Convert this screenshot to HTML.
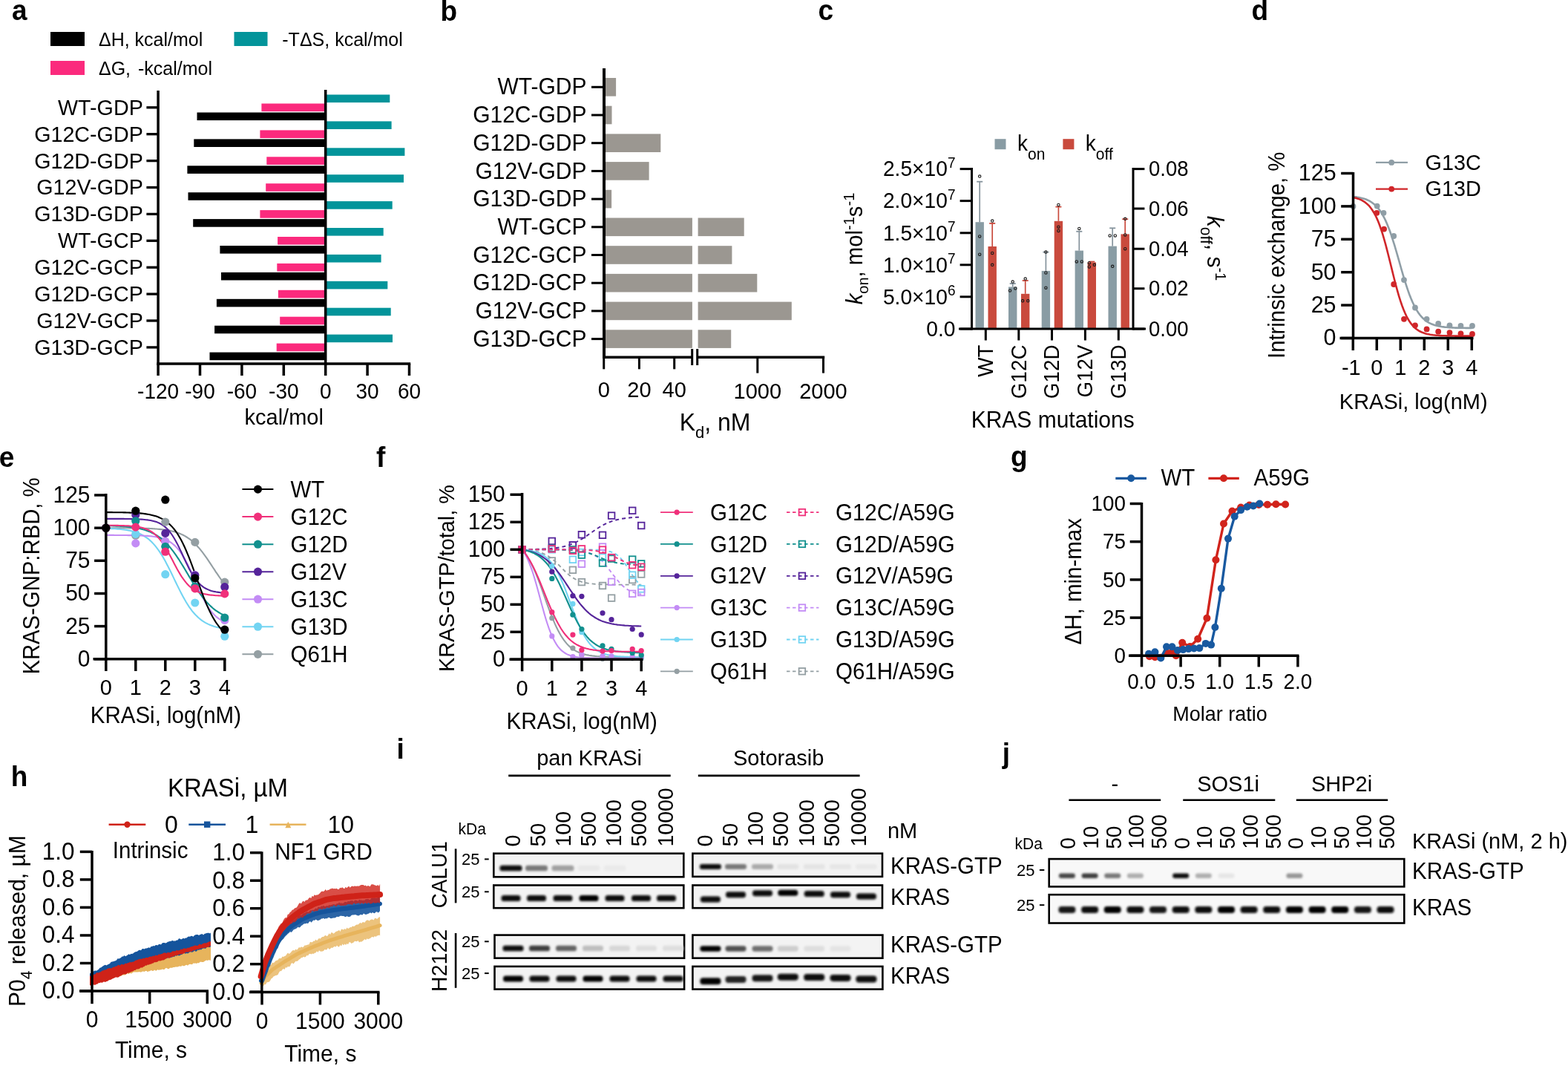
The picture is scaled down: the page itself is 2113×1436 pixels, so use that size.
<!DOCTYPE html>
<html><head><meta charset="utf-8"><title>Figure</title>
<style>
html,body{margin:0;padding:0;background:#fff;}
svg{display:block;}
svg text{font-family:"Liberation Sans",Arial,Helvetica,sans-serif;}
</style></head><body>
<svg width="2113" height="1436" viewBox="0 0 2113 1436">
<defs><filter id="bb" x="-30%" y="-80%" width="160%" height="260%"><feGaussianBlur stdDeviation="1.6"/></filter></defs>
<rect width="2113" height="1436" fill="#fff"/>
<text x="16" y="27" font-size="37" font-weight="bold" transform="translate(16 27) scale(1 1.04) translate(-16 -27)">a</text>
<rect x="68" y="43" width="46" height="19" fill="#000"/>
<text x="133" y="62" font-size="25" transform="translate(133 62) scale(1 1.04) translate(-133 -62)">ΔH, kcal/mol</text>
<rect x="315.5" y="43" width="45" height="19" fill="#03949a"/>
<text x="380.3" y="62" font-size="25" transform="translate(380.3 62) scale(1 1.04) translate(-380.3 -62)">-TΔS, kcal/mol</text>
<rect x="68" y="82" width="46" height="19" fill="#fb2a7d"/>
<text x="133" y="100.7" font-size="25" transform="translate(133 100.7) scale(1 1.04) translate(-133 -100.7)">ΔG, <tspan dx="3">-kcal/mol</tspan></text>
<rect x="438.7" y="127.5" width="86.6" height="10.6" fill="#03949a"/>
<rect x="352.4" y="139.5" width="86.3" height="10.6" fill="#fb2a7d"/>
<rect x="265.5" y="151.5" width="173.2" height="10.6" fill="#000"/>
<line x1="197.4" y1="144.8" x2="213" y2="144.8" stroke="#000" stroke-width="3.3"/>
<text x="192.8" y="154.8" font-size="28.7" text-anchor="end" transform="translate(192.8 154.8) scale(1 1.04) translate(-192.8 -154.8)">WT-GDP</text>
<rect x="438.7" y="163.4" width="88.9" height="10.6" fill="#03949a"/>
<rect x="350.4" y="175.4" width="88.3" height="10.6" fill="#fb2a7d"/>
<rect x="261.3" y="187.4" width="177.4" height="10.6" fill="#000"/>
<line x1="197.4" y1="180.7" x2="213" y2="180.7" stroke="#000" stroke-width="3.3"/>
<text x="192.8" y="190.7" font-size="28.7" text-anchor="end" transform="translate(192.8 190.7) scale(1 1.04) translate(-192.8 -190.7)">G12C-GDP</text>
<rect x="438.7" y="199.3" width="106.7" height="10.6" fill="#03949a"/>
<rect x="359.3" y="211.3" width="79.4" height="10.6" fill="#fb2a7d"/>
<rect x="252.4" y="223.3" width="186.3" height="10.6" fill="#000"/>
<line x1="197.4" y1="216.6" x2="213" y2="216.6" stroke="#000" stroke-width="3.3"/>
<text x="192.8" y="226.6" font-size="28.7" text-anchor="end" transform="translate(192.8 226.6) scale(1 1.04) translate(-192.8 -226.6)">G12D-GDP</text>
<rect x="438.7" y="235.2" width="105.3" height="10.6" fill="#03949a"/>
<rect x="358.2" y="247.2" width="80.5" height="10.6" fill="#fb2a7d"/>
<rect x="253.5" y="259.2" width="185.2" height="10.6" fill="#000"/>
<line x1="197.4" y1="252.5" x2="213" y2="252.5" stroke="#000" stroke-width="3.3"/>
<text x="192.8" y="262.5" font-size="28.7" text-anchor="end" transform="translate(192.8 262.5) scale(1 1.04) translate(-192.8 -262.5)">G12V-GDP</text>
<rect x="438.7" y="271.1" width="90" height="10.6" fill="#03949a"/>
<rect x="350.4" y="283.1" width="88.3" height="10.6" fill="#fb2a7d"/>
<rect x="260.2" y="295.1" width="178.5" height="10.6" fill="#000"/>
<line x1="197.4" y1="288.4" x2="213" y2="288.4" stroke="#000" stroke-width="3.3"/>
<text x="192.8" y="298.4" font-size="28.7" text-anchor="end" transform="translate(192.8 298.4) scale(1 1.04) translate(-192.8 -298.4)">G13D-GDP</text>
<rect x="438.7" y="307" width="78" height="10.6" fill="#03949a"/>
<rect x="374.1" y="319" width="64.6" height="10.6" fill="#fb2a7d"/>
<rect x="296.4" y="331" width="142.3" height="10.6" fill="#000"/>
<line x1="197.4" y1="324.3" x2="213" y2="324.3" stroke="#000" stroke-width="3.3"/>
<text x="192.8" y="334.3" font-size="28.7" text-anchor="end" transform="translate(192.8 334.3) scale(1 1.04) translate(-192.8 -334.3)">WT-GCP</text>
<rect x="438.7" y="342.9" width="74.9" height="10.6" fill="#03949a"/>
<rect x="373.3" y="354.9" width="65.4" height="10.6" fill="#fb2a7d"/>
<rect x="298" y="366.9" width="140.7" height="10.6" fill="#000"/>
<line x1="197.4" y1="360.2" x2="213" y2="360.2" stroke="#000" stroke-width="3.3"/>
<text x="192.8" y="370.2" font-size="28.7" text-anchor="end" transform="translate(192.8 370.2) scale(1 1.04) translate(-192.8 -370.2)">G12C-GCP</text>
<rect x="438.7" y="378.8" width="83.6" height="10.6" fill="#03949a"/>
<rect x="374.9" y="390.8" width="63.8" height="10.6" fill="#fb2a7d"/>
<rect x="291.9" y="402.8" width="146.8" height="10.6" fill="#000"/>
<line x1="197.4" y1="396.1" x2="213" y2="396.1" stroke="#000" stroke-width="3.3"/>
<text x="192.8" y="406.1" font-size="28.7" text-anchor="end" transform="translate(192.8 406.1) scale(1 1.04) translate(-192.8 -406.1)">G12D-GCP</text>
<rect x="438.7" y="414.7" width="88" height="10.6" fill="#03949a"/>
<rect x="377.2" y="426.7" width="61.5" height="10.6" fill="#fb2a7d"/>
<rect x="289.1" y="438.7" width="149.6" height="10.6" fill="#000"/>
<line x1="197.4" y1="432" x2="213" y2="432" stroke="#000" stroke-width="3.3"/>
<text x="192.8" y="442" font-size="28.7" text-anchor="end" transform="translate(192.8 442) scale(1 1.04) translate(-192.8 -442)">G12V-GCP</text>
<rect x="438.7" y="450.6" width="90.3" height="10.6" fill="#03949a"/>
<rect x="372.7" y="462.6" width="66" height="10.6" fill="#fb2a7d"/>
<rect x="282.5" y="474.6" width="156.2" height="10.6" fill="#000"/>
<line x1="197.4" y1="467.9" x2="213" y2="467.9" stroke="#000" stroke-width="3.3"/>
<text x="192.8" y="477.9" font-size="28.7" text-anchor="end" transform="translate(192.8 477.9) scale(1 1.04) translate(-192.8 -477.9)">G13D-GCP</text>
<line x1="213.1" y1="122" x2="213.1" y2="491.7" stroke="#000" stroke-width="3.5"/>
<line x1="438.7" y1="121" x2="438.7" y2="491.7" stroke="#000" stroke-width="3.5"/>
<line x1="211.4" y1="490" x2="553.2" y2="490" stroke="#000" stroke-width="3.5"/>
<line x1="213.1" y1="490" x2="213.1" y2="506" stroke="#000" stroke-width="3.5"/>
<text x="213.1" y="537" font-size="28" text-anchor="middle" transform="translate(213.1 537) scale(1 1.04) translate(-213.1 -537)">-120</text>
<line x1="269.5" y1="490" x2="269.5" y2="506" stroke="#000" stroke-width="3.5"/>
<text x="269.5" y="537" font-size="28" text-anchor="middle" transform="translate(269.5 537) scale(1 1.04) translate(-269.5 -537)">-90</text>
<line x1="325.9" y1="490" x2="325.9" y2="506" stroke="#000" stroke-width="3.5"/>
<text x="325.9" y="537" font-size="28" text-anchor="middle" transform="translate(325.9 537) scale(1 1.04) translate(-325.9 -537)">-60</text>
<line x1="382.3" y1="490" x2="382.3" y2="506" stroke="#000" stroke-width="3.5"/>
<text x="382.3" y="537" font-size="28" text-anchor="middle" transform="translate(382.3 537) scale(1 1.04) translate(-382.3 -537)">-30</text>
<line x1="438.7" y1="490" x2="438.7" y2="506" stroke="#000" stroke-width="3.5"/>
<text x="438.7" y="537" font-size="28" text-anchor="middle" transform="translate(438.7 537) scale(1 1.04) translate(-438.7 -537)">0</text>
<line x1="495.1" y1="490" x2="495.1" y2="506" stroke="#000" stroke-width="3.5"/>
<text x="495.1" y="537" font-size="28" text-anchor="middle" transform="translate(495.1 537) scale(1 1.04) translate(-495.1 -537)">30</text>
<line x1="551.5" y1="490" x2="551.5" y2="506" stroke="#000" stroke-width="3.5"/>
<text x="551.5" y="537" font-size="28" text-anchor="middle" transform="translate(551.5 537) scale(1 1.04) translate(-551.5 -537)">60</text>
<text x="382.7" y="571.8" font-size="29" text-anchor="middle" transform="translate(382.7 571.8) scale(1 1.04) translate(-382.7 -571.8)">kcal/mol</text>
<text x="593.4" y="27.5" font-size="37" font-weight="bold" transform="translate(593.4 27.5) scale(1 1.04) translate(-593.4 -27.5)">b</text>
<rect x="815.5" y="105" width="14.6" height="24.6" fill="#9b9791"/>
<line x1="797" y1="117.3" x2="814" y2="117.3" stroke="#000" stroke-width="3"/>
<text x="790.5" y="127.5" font-size="30" text-anchor="end" transform="translate(790.5 127.5) scale(1 1.04) translate(-790.5 -127.5)">WT-GDP</text>
<rect x="815.5" y="142.7" width="9" height="24.6" fill="#9b9791"/>
<line x1="797" y1="155" x2="814" y2="155" stroke="#000" stroke-width="3"/>
<text x="790.5" y="165.2" font-size="30" text-anchor="end" transform="translate(790.5 165.2) scale(1 1.04) translate(-790.5 -165.2)">G12C-GDP</text>
<rect x="815.5" y="180.4" width="74.8" height="24.6" fill="#9b9791"/>
<line x1="797" y1="192.7" x2="814" y2="192.7" stroke="#000" stroke-width="3"/>
<text x="790.5" y="202.9" font-size="30" text-anchor="end" transform="translate(790.5 202.9) scale(1 1.04) translate(-790.5 -202.9)">G12D-GDP</text>
<rect x="815.5" y="218.1" width="59.1" height="24.6" fill="#9b9791"/>
<line x1="797" y1="230.4" x2="814" y2="230.4" stroke="#000" stroke-width="3"/>
<text x="790.5" y="240.6" font-size="30" text-anchor="end" transform="translate(790.5 240.6) scale(1 1.04) translate(-790.5 -240.6)">G12V-GDP</text>
<rect x="815.5" y="255.8" width="8.6" height="24.6" fill="#9b9791"/>
<line x1="797" y1="268.1" x2="814" y2="268.1" stroke="#000" stroke-width="3"/>
<text x="790.5" y="278.3" font-size="30" text-anchor="end" transform="translate(790.5 278.3) scale(1 1.04) translate(-790.5 -278.3)">G13D-GDP</text>
<rect x="815.5" y="293.5" width="117.4" height="24.6" fill="#9b9791"/>
<rect x="940.6" y="293.5" width="62.1" height="24.6" fill="#9b9791"/>
<line x1="797" y1="305.8" x2="814" y2="305.8" stroke="#000" stroke-width="3"/>
<text x="790.5" y="316" font-size="30" text-anchor="end" transform="translate(790.5 316) scale(1 1.04) translate(-790.5 -316)">WT-GCP</text>
<rect x="815.5" y="331.2" width="117.4" height="24.6" fill="#9b9791"/>
<rect x="940.6" y="331.2" width="45.8" height="24.6" fill="#9b9791"/>
<line x1="797" y1="343.5" x2="814" y2="343.5" stroke="#000" stroke-width="3"/>
<text x="790.5" y="353.7" font-size="30" text-anchor="end" transform="translate(790.5 353.7) scale(1 1.04) translate(-790.5 -353.7)">G12C-GCP</text>
<rect x="815.5" y="368.9" width="117.4" height="24.6" fill="#9b9791"/>
<rect x="940.6" y="368.9" width="79.7" height="24.6" fill="#9b9791"/>
<line x1="797" y1="381.2" x2="814" y2="381.2" stroke="#000" stroke-width="3"/>
<text x="790.5" y="391.4" font-size="30" text-anchor="end" transform="translate(790.5 391.4) scale(1 1.04) translate(-790.5 -391.4)">G12D-GCP</text>
<rect x="815.5" y="406.6" width="117.4" height="24.6" fill="#9b9791"/>
<rect x="940.6" y="406.6" width="126.2" height="24.6" fill="#9b9791"/>
<line x1="797" y1="418.9" x2="814" y2="418.9" stroke="#000" stroke-width="3"/>
<text x="790.5" y="429.1" font-size="30" text-anchor="end" transform="translate(790.5 429.1) scale(1 1.04) translate(-790.5 -429.1)">G12V-GCP</text>
<rect x="815.5" y="444.3" width="117.4" height="24.6" fill="#9b9791"/>
<rect x="940.6" y="444.3" width="44.6" height="24.6" fill="#9b9791"/>
<line x1="797" y1="456.6" x2="814" y2="456.6" stroke="#000" stroke-width="3"/>
<text x="790.5" y="466.8" font-size="30" text-anchor="end" transform="translate(790.5 466.8) scale(1 1.04) translate(-790.5 -466.8)">G13D-GCP</text>
<line x1="814" y1="92" x2="814" y2="483" stroke="#000" stroke-width="4"/>
<line x1="812.3" y1="481.2" x2="932.7" y2="481.2" stroke="#000" stroke-width="3.5"/>
<line x1="939.7" y1="481.2" x2="1111.2" y2="481.2" stroke="#000" stroke-width="3.5"/>
<line x1="932.7" y1="470" x2="932.7" y2="492" stroke="#000" stroke-width="3"/>
<line x1="939.7" y1="470" x2="939.7" y2="492" stroke="#000" stroke-width="3"/>
<line x1="813.7" y1="481.2" x2="813.7" y2="497.3" stroke="#000" stroke-width="3"/>
<text x="813.7" y="535.5" font-size="29" text-anchor="middle" transform="translate(813.7 535.5) scale(1 1.04) translate(-813.7 -535.5)">0</text>
<line x1="861.4" y1="481.2" x2="861.4" y2="497.3" stroke="#000" stroke-width="3"/>
<text x="861.4" y="535.5" font-size="29" text-anchor="middle" transform="translate(861.4 535.5) scale(1 1.04) translate(-861.4 -535.5)">20</text>
<line x1="908.7" y1="481.2" x2="908.7" y2="497.3" stroke="#000" stroke-width="3"/>
<text x="908.7" y="535.5" font-size="29" text-anchor="middle" transform="translate(908.7 535.5) scale(1 1.04) translate(-908.7 -535.5)">40</text>
<line x1="1020.8" y1="481.2" x2="1020.8" y2="502.6" stroke="#000" stroke-width="3"/>
<text x="1020.8" y="536.7" font-size="29" text-anchor="middle" transform="translate(1020.8 536.7) scale(1 1.04) translate(-1020.8 -536.7)">1000</text>
<line x1="1109.5" y1="481.2" x2="1109.5" y2="502.6" stroke="#000" stroke-width="3"/>
<text x="1109.5" y="536.7" font-size="29" text-anchor="middle" transform="translate(1109.5 536.7) scale(1 1.04) translate(-1109.5 -536.7)">2000</text>
<text x="915.7" y="579.6" font-size="32" transform="translate(915.7 579.6) scale(1 1.04) translate(-915.7 -579.6)">K<tspan font-size="22" dy="9.7">d</tspan><tspan dy="-9.7">, nM</tspan></text>
<text x="1102.6" y="27.2" font-size="37" font-weight="bold" transform="translate(1102.6 27.2) scale(1 1.04) translate(-1102.6 -27.2)">c</text>
<rect x="1340.5" y="187.2" width="15" height="14" fill="#899ca4"/>
<text x="1371" y="203.3" font-size="28" transform="translate(1371 203.3) scale(1 1.04) translate(-1371 -203.3)">k<tspan font-size="21" dy="11">on</tspan></text>
<rect x="1432.4" y="187.2" width="15" height="14" fill="#c94a3d"/>
<text x="1462.8" y="203.3" font-size="28" transform="translate(1462.8 203.3) scale(1 1.04) translate(-1462.8 -203.3)">k<tspan font-size="21" dy="11">off</tspan></text>
<rect x="1314.5" y="299.2" width="11.4" height="143.8" fill="#899ca4"/>
<rect x="1331.5" y="332" width="11.4" height="111" fill="#c94a3d"/>
<line x1="1320.2" y1="299.2" x2="1320.2" y2="244.7" stroke="#85939c" stroke-width="1.7"/>
<line x1="1316.2" y1="244.7" x2="1324.2" y2="244.7" stroke="#85939c" stroke-width="1.8"/>
<line x1="1337.2" y1="332" x2="1337.2" y2="300.9" stroke="#c94a3d" stroke-width="1.7"/>
<line x1="1333.2" y1="300.9" x2="1341.2" y2="300.9" stroke="#c94a3d" stroke-width="1.8"/>
<circle cx="1320.2" cy="237.6" r="1.7" fill="none" stroke="#1a1a1a" stroke-width="1.1"/>
<circle cx="1320.2" cy="318.4" r="1.7" fill="none" stroke="#1a1a1a" stroke-width="1.1"/>
<circle cx="1320.2" cy="342.7" r="1.7" fill="none" stroke="#1a1a1a" stroke-width="1.1"/>
<circle cx="1337.2" cy="297.6" r="1.7" fill="none" stroke="#1a1a1a" stroke-width="1.1"/>
<circle cx="1337.2" cy="341" r="1.7" fill="none" stroke="#1a1a1a" stroke-width="1.1"/>
<circle cx="1337.2" cy="356.8" r="1.7" fill="none" stroke="#1a1a1a" stroke-width="1.1"/>
<rect x="1359" y="386.5" width="11.4" height="56.5" fill="#899ca4"/>
<rect x="1376" y="395.8" width="11.4" height="47.2" fill="#c94a3d"/>
<line x1="1364.7" y1="386.5" x2="1364.7" y2="382" stroke="#85939c" stroke-width="1.7"/>
<line x1="1360.7" y1="382" x2="1368.7" y2="382" stroke="#85939c" stroke-width="1.8"/>
<line x1="1381.7" y1="395.8" x2="1381.7" y2="378" stroke="#c94a3d" stroke-width="1.7"/>
<line x1="1377.7" y1="378" x2="1385.7" y2="378" stroke="#c94a3d" stroke-width="1.8"/>
<circle cx="1361" cy="391.5" r="1.7" fill="none" stroke="#1a1a1a" stroke-width="1.1"/>
<circle cx="1364.7" cy="379.6" r="1.7" fill="none" stroke="#1a1a1a" stroke-width="1.1"/>
<circle cx="1368.3" cy="388.5" r="1.7" fill="none" stroke="#1a1a1a" stroke-width="1.1"/>
<circle cx="1381.7" cy="375.6" r="1.7" fill="none" stroke="#1a1a1a" stroke-width="1.1"/>
<circle cx="1378.1" cy="405.3" r="1.7" fill="none" stroke="#1a1a1a" stroke-width="1.1"/>
<circle cx="1385.3" cy="405.3" r="1.7" fill="none" stroke="#1a1a1a" stroke-width="1.1"/>
<rect x="1403.7" y="364.9" width="11.4" height="78.1" fill="#899ca4"/>
<rect x="1420.7" y="297.8" width="11.4" height="145.2" fill="#c94a3d"/>
<line x1="1409.4" y1="364.9" x2="1409.4" y2="339.6" stroke="#85939c" stroke-width="1.7"/>
<line x1="1405.4" y1="339.6" x2="1413.4" y2="339.6" stroke="#85939c" stroke-width="1.8"/>
<line x1="1426.4" y1="297.8" x2="1426.4" y2="278.6" stroke="#c94a3d" stroke-width="1.7"/>
<line x1="1422.4" y1="278.6" x2="1430.4" y2="278.6" stroke="#c94a3d" stroke-width="1.8"/>
<circle cx="1409.4" cy="339.6" r="1.7" fill="none" stroke="#1a1a1a" stroke-width="1.1"/>
<circle cx="1409.4" cy="367.5" r="1.7" fill="none" stroke="#1a1a1a" stroke-width="1.1"/>
<circle cx="1409.4" cy="387.7" r="1.7" fill="none" stroke="#1a1a1a" stroke-width="1.1"/>
<circle cx="1426.4" cy="276" r="1.7" fill="none" stroke="#1a1a1a" stroke-width="1.1"/>
<circle cx="1426.4" cy="305.7" r="1.7" fill="none" stroke="#1a1a1a" stroke-width="1.1"/>
<circle cx="1426.4" cy="311" r="1.7" fill="none" stroke="#1a1a1a" stroke-width="1.1"/>
<rect x="1448.6" y="337.6" width="11.4" height="105.4" fill="#899ca4"/>
<rect x="1465.6" y="353.4" width="11.4" height="89.6" fill="#c94a3d"/>
<line x1="1454.3" y1="337.6" x2="1454.3" y2="311.8" stroke="#85939c" stroke-width="1.7"/>
<line x1="1450.3" y1="311.8" x2="1458.3" y2="311.8" stroke="#85939c" stroke-width="1.8"/>
<line x1="1471.3" y1="353.4" x2="1471.3" y2="352.5" stroke="#c94a3d" stroke-width="1.7"/>
<line x1="1467.3" y1="352.5" x2="1475.3" y2="352.5" stroke="#c94a3d" stroke-width="1.8"/>
<circle cx="1454.3" cy="307.9" r="1.7" fill="none" stroke="#1a1a1a" stroke-width="1.1"/>
<circle cx="1450.8" cy="352.4" r="1.7" fill="none" stroke="#1a1a1a" stroke-width="1.1"/>
<circle cx="1457.8" cy="352.4" r="1.7" fill="none" stroke="#1a1a1a" stroke-width="1.1"/>
<circle cx="1467.8" cy="354.2" r="1.7" fill="none" stroke="#1a1a1a" stroke-width="1.1"/>
<circle cx="1467.8" cy="359.4" r="1.7" fill="none" stroke="#1a1a1a" stroke-width="1.1"/>
<circle cx="1474.8" cy="356.8" r="1.7" fill="none" stroke="#1a1a1a" stroke-width="1.1"/>
<rect x="1493.5" y="331.6" width="11.4" height="111.4" fill="#899ca4"/>
<rect x="1510.5" y="315.4" width="11.4" height="127.6" fill="#c94a3d"/>
<line x1="1499.2" y1="331.6" x2="1499.2" y2="307.3" stroke="#85939c" stroke-width="1.7"/>
<line x1="1495.2" y1="307.3" x2="1503.2" y2="307.3" stroke="#85939c" stroke-width="1.8"/>
<line x1="1516.2" y1="315.4" x2="1516.2" y2="295.2" stroke="#c94a3d" stroke-width="1.7"/>
<line x1="1512.2" y1="295.2" x2="1520.2" y2="295.2" stroke="#c94a3d" stroke-width="1.8"/>
<circle cx="1495.6" cy="317.4" r="1.7" fill="none" stroke="#1a1a1a" stroke-width="1.1"/>
<circle cx="1502.8" cy="317.4" r="1.7" fill="none" stroke="#1a1a1a" stroke-width="1.1"/>
<circle cx="1499.2" cy="358.8" r="1.7" fill="none" stroke="#1a1a1a" stroke-width="1.1"/>
<circle cx="1516.2" cy="294.8" r="1.7" fill="none" stroke="#1a1a1a" stroke-width="1.1"/>
<circle cx="1516.2" cy="316.4" r="1.7" fill="none" stroke="#1a1a1a" stroke-width="1.1"/>
<circle cx="1516.2" cy="335.2" r="1.7" fill="none" stroke="#1a1a1a" stroke-width="1.1"/>
<line x1="1309.5" y1="226" x2="1309.5" y2="444.5" stroke="#000" stroke-width="3"/>
<line x1="1527" y1="226" x2="1527" y2="444.5" stroke="#000" stroke-width="3"/>
<line x1="1292" y1="443" x2="1544" y2="443" stroke="#000" stroke-width="3"/>
<line x1="1293.6" y1="227.6" x2="1309.5" y2="227.6" stroke="#000" stroke-width="3"/>
<text x="1287.5" y="237.5" font-size="28.2" text-anchor="end" transform="translate(1287.5 237.5) scale(1 1.04) translate(-1287.5 -237.5)">2.5×10<tspan font-size="19" dy="-11.5">7</tspan></text>
<line x1="1293.6" y1="270.6" x2="1309.5" y2="270.6" stroke="#000" stroke-width="3"/>
<text x="1287.5" y="280.5" font-size="28.2" text-anchor="end" transform="translate(1287.5 280.5) scale(1 1.04) translate(-1287.5 -280.5)">2.0×10<tspan font-size="19" dy="-11.5">7</tspan></text>
<line x1="1293.6" y1="313.8" x2="1309.5" y2="313.8" stroke="#000" stroke-width="3"/>
<text x="1287.5" y="323.7" font-size="28.2" text-anchor="end" transform="translate(1287.5 323.7) scale(1 1.04) translate(-1287.5 -323.7)">1.5×10<tspan font-size="19" dy="-11.5">7</tspan></text>
<line x1="1293.6" y1="356.8" x2="1309.5" y2="356.8" stroke="#000" stroke-width="3"/>
<text x="1287.5" y="366.7" font-size="28.2" text-anchor="end" transform="translate(1287.5 366.7) scale(1 1.04) translate(-1287.5 -366.7)">1.0×10<tspan font-size="19" dy="-11.5">7</tspan></text>
<line x1="1293.6" y1="399.8" x2="1309.5" y2="399.8" stroke="#000" stroke-width="3"/>
<text x="1287.5" y="409.7" font-size="28.2" text-anchor="end" transform="translate(1287.5 409.7) scale(1 1.04) translate(-1287.5 -409.7)">5.0×10<tspan font-size="19" dy="-11.5">6</tspan></text>
<line x1="1293.6" y1="443" x2="1309.5" y2="443" stroke="#000" stroke-width="3"/>
<text x="1287.5" y="452.9" font-size="28.2" text-anchor="end" transform="translate(1287.5 452.9) scale(1 1.04) translate(-1287.5 -452.9)">0.0</text>
<line x1="1527" y1="227.6" x2="1542.4" y2="227.6" stroke="#000" stroke-width="3"/>
<text x="1548" y="237.4" font-size="27.5" transform="translate(1548 237.4) scale(1 1.04) translate(-1548 -237.4)">0.08</text>
<line x1="1527" y1="281" x2="1542.4" y2="281" stroke="#000" stroke-width="3"/>
<text x="1548" y="290.8" font-size="27.5" transform="translate(1548 290.8) scale(1 1.04) translate(-1548 -290.8)">0.06</text>
<line x1="1527" y1="335.2" x2="1542.4" y2="335.2" stroke="#000" stroke-width="3"/>
<text x="1548" y="345" font-size="27.5" transform="translate(1548 345) scale(1 1.04) translate(-1548 -345)">0.04</text>
<line x1="1527" y1="388.7" x2="1542.4" y2="388.7" stroke="#000" stroke-width="3"/>
<text x="1548" y="398.5" font-size="27.5" transform="translate(1548 398.5) scale(1 1.04) translate(-1548 -398.5)">0.02</text>
<line x1="1527" y1="443" x2="1542.4" y2="443" stroke="#000" stroke-width="3"/>
<text x="1548" y="452.8" font-size="27.5" transform="translate(1548 452.8) scale(1 1.04) translate(-1548 -452.8)">0.00</text>
<line x1="1328.3" y1="443" x2="1328.3" y2="458.5" stroke="#000" stroke-width="3"/>
<text x="1338.1" y="464.5" font-size="27.8" text-anchor="end" transform="rotate(-90 1338.1 464.5) translate(1338.1 464.5) scale(1 1.04) translate(-1338.1 -464.5)">WT</text>
<line x1="1372.8" y1="443" x2="1372.8" y2="458.5" stroke="#000" stroke-width="3"/>
<text x="1382.6" y="464.5" font-size="27.8" text-anchor="end" transform="rotate(-90 1382.6 464.5) translate(1382.6 464.5) scale(1 1.04) translate(-1382.6 -464.5)">G12C</text>
<line x1="1417.5" y1="443" x2="1417.5" y2="458.5" stroke="#000" stroke-width="3"/>
<text x="1427.3" y="464.5" font-size="27.8" text-anchor="end" transform="rotate(-90 1427.3 464.5) translate(1427.3 464.5) scale(1 1.04) translate(-1427.3 -464.5)">G12D</text>
<line x1="1462.4" y1="443" x2="1462.4" y2="458.5" stroke="#000" stroke-width="3"/>
<text x="1472.2" y="464.5" font-size="27.8" text-anchor="end" transform="rotate(-90 1472.2 464.5) translate(1472.2 464.5) scale(1 1.04) translate(-1472.2 -464.5)">G12V</text>
<line x1="1507.3" y1="443" x2="1507.3" y2="458.5" stroke="#000" stroke-width="3"/>
<text x="1517.1" y="464.5" font-size="27.8" text-anchor="end" transform="rotate(-90 1517.1 464.5) translate(1517.1 464.5) scale(1 1.04) translate(-1517.1 -464.5)">G13D</text>
<text x="1418.7" y="575.8" font-size="30" text-anchor="middle" transform="translate(1418.7 575.8) scale(1 1.04) translate(-1418.7 -575.8)">KRAS mutations</text>
<text x="1162.3" y="335" font-size="29.3" text-anchor="middle" transform="rotate(-90 1162.3 335) translate(1162.3 335) scale(1 1.04) translate(-1162.3 -335)"><tspan font-style="italic">k</tspan><tspan font-size="20" dy="7">on</tspan><tspan dy="-7">, mol</tspan><tspan font-size="20" dy="-11">-1</tspan><tspan dy="11">s</tspan><tspan font-size="20" dy="-11">-1</tspan></text>
<text x="1627" y="334.5" font-size="30" text-anchor="middle" transform="rotate(90 1627 334.5) translate(1627 334.5) scale(1 1.04) translate(-1627 -334.5)"><tspan font-style="italic">k</tspan><tspan font-size="21" dy="9">off</tspan><tspan dy="-9">, s</tspan><tspan font-size="20" dy="-11">-1</tspan></text>
<text x="1686.5" y="27.1" font-size="37" font-weight="bold" transform="translate(1686.5 27.1) scale(1 1.04) translate(-1686.5 -27.1)">d</text>
<path d="M1823.3 265 L1825.3 265.2 L1827.3 265.4 L1829.3 265.7 L1831.3 266.1 L1833.3 266.5 L1835.3 266.9 L1837.3 267.5 L1839.3 268.1 L1841.3 268.8 L1843.3 269.7 L1845.3 270.7 L1847.3 271.8 L1849.3 273.2 L1851.3 274.7 L1853.3 276.4 L1855.3 278.4 L1857.3 280.7 L1859.3 283.3 L1861.3 286.3 L1863.3 289.6 L1865.3 293.3 L1867.3 297.4 L1869.3 301.9 L1871.3 306.9 L1873.3 312.3 L1875.3 318.1 L1877.3 324.3 L1879.3 330.7 L1881.3 337.5 L1883.3 344.4 L1885.3 351.4 L1887.3 358.5 L1889.3 365.5 L1891.3 372.3 L1893.3 378.9 L1895.3 385.2 L1897.3 391.1 L1899.3 396.7 L1901.3 401.8 L1903.3 406.5 L1905.3 410.8 L1907.3 414.7 L1909.3 418.1 L1911.3 421.2 L1913.3 424 L1915.3 426.4 L1917.3 428.5 L1919.3 430.3 L1921.3 432 L1923.3 433.4 L1925.3 434.6 L1927.3 435.6 L1929.3 436.5 L1931.3 437.3 L1933.3 438 L1935.3 438.6 L1937.3 439 L1939.3 439.5 L1941.3 439.8 L1943.3 440.2 L1945.3 440.4 L1947.3 440.7 L1949.3 440.8 L1951.3 441 L1953.3 441.2 L1955.3 441.3 L1957.3 441.4 L1959.3 441.5 L1961.3 441.6 L1963.3 441.6 L1965.3 441.7 L1967.3 441.7 L1969.3 441.8 L1971.3 441.8 L1973.3 441.8 L1975.3 441.9 L1977.3 441.9 L1979.3 441.9 L1981.3 441.9 L1983.3 441.9" fill="none" stroke="#8f9ea6" stroke-width="2.6"/>
<path d="M1823.3 265.9 L1825.3 266.4 L1827.3 266.8 L1829.3 267.4 L1831.3 268.1 L1833.3 268.9 L1835.3 269.9 L1837.3 271 L1839.3 272.3 L1841.3 273.9 L1843.3 275.7 L1845.3 277.7 L1847.3 280.2 L1849.3 283 L1851.3 286.2 L1853.3 289.8 L1855.3 293.9 L1857.3 298.6 L1859.3 303.8 L1861.3 309.5 L1863.3 315.7 L1865.3 322.5 L1867.3 329.7 L1869.3 337.3 L1871.3 345.2 L1873.3 353.3 L1875.3 361.4 L1877.3 369.5 L1879.3 377.5 L1881.3 385.1 L1883.3 392.4 L1885.3 399.3 L1887.3 405.7 L1889.3 411.5 L1891.3 416.8 L1893.3 421.5 L1895.3 425.8 L1897.3 429.5 L1899.3 432.8 L1901.3 435.7 L1903.3 438.1 L1905.3 440.3 L1907.3 442.2 L1909.3 443.7 L1911.3 445.1 L1913.3 446.3 L1915.3 447.2 L1917.3 448.1 L1919.3 448.8 L1921.3 449.4 L1923.3 449.9 L1925.3 450.3 L1927.3 450.7 L1929.3 451 L1931.3 451.3 L1933.3 451.5 L1935.3 451.7 L1937.3 451.8 L1939.3 452 L1941.3 452.1 L1943.3 452.2 L1945.3 452.2 L1947.3 452.3 L1949.3 452.4 L1951.3 452.4 L1953.3 452.4 L1955.3 452.5 L1957.3 452.5 L1959.3 452.5 L1961.3 452.6 L1963.3 452.6 L1965.3 452.6 L1967.3 452.6 L1969.3 452.6 L1971.3 452.6 L1973.3 452.6 L1975.3 452.6 L1977.3 452.6 L1979.3 452.6 L1981.3 452.6 L1983.3 452.6" fill="none" stroke="#d0262a" stroke-width="2.6"/>
<circle cx="1823.5" cy="278" r="3.9" fill="#8f9ea6"/>
<circle cx="1855.7" cy="277.6" r="3.9" fill="#8f9ea6"/>
<circle cx="1864.5" cy="286.8" r="3.9" fill="#8f9ea6"/>
<circle cx="1878.2" cy="318" r="3.9" fill="#8f9ea6"/>
<circle cx="1892" cy="377.1" r="3.9" fill="#8f9ea6"/>
<circle cx="1907" cy="414.5" r="3.9" fill="#8f9ea6"/>
<circle cx="1922.6" cy="429.8" r="3.9" fill="#8f9ea6"/>
<circle cx="1938.2" cy="436" r="3.9" fill="#8f9ea6"/>
<circle cx="1953.5" cy="438.3" r="3.9" fill="#8f9ea6"/>
<circle cx="1968.5" cy="439" r="3.9" fill="#8f9ea6"/>
<circle cx="1984" cy="439" r="3.9" fill="#8f9ea6"/>
<circle cx="1855.3" cy="286.8" r="3.9" fill="#d0262a"/>
<circle cx="1865.1" cy="308.6" r="3.9" fill="#d0262a"/>
<circle cx="1878.2" cy="383" r="3.9" fill="#d0262a"/>
<circle cx="1892" cy="429.8" r="3.9" fill="#d0262a"/>
<circle cx="1907" cy="438.3" r="3.9" fill="#d0262a"/>
<circle cx="1922.6" cy="443.4" r="3.9" fill="#d0262a"/>
<circle cx="1938.2" cy="446.7" r="3.9" fill="#d0262a"/>
<circle cx="1953.5" cy="448.1" r="3.9" fill="#d0262a"/>
<circle cx="1968.5" cy="449.3" r="3.9" fill="#d0262a"/>
<circle cx="1984" cy="450" r="3.9" fill="#d0262a"/>
<line x1="1823.5" y1="232" x2="1823.5" y2="457" stroke="#000" stroke-width="3.5"/>
<line x1="1805.5" y1="455.5" x2="1985.5" y2="455.5" stroke="#000" stroke-width="3.5"/>
<line x1="1807.2" y1="455.5" x2="1823.5" y2="455.5" stroke="#000" stroke-width="3.5"/>
<text x="1800.6" y="465.5" font-size="30.5" text-anchor="end" transform="translate(1800.6 465.5) scale(1 1.04) translate(-1800.6 -465.5)">0</text>
<line x1="1807.2" y1="411.1" x2="1823.5" y2="411.1" stroke="#000" stroke-width="3.5"/>
<text x="1800.6" y="421.1" font-size="30.5" text-anchor="end" transform="translate(1800.6 421.1) scale(1 1.04) translate(-1800.6 -421.1)">25</text>
<line x1="1807.2" y1="366.7" x2="1823.5" y2="366.7" stroke="#000" stroke-width="3.5"/>
<text x="1800.6" y="376.7" font-size="30.5" text-anchor="end" transform="translate(1800.6 376.7) scale(1 1.04) translate(-1800.6 -376.7)">50</text>
<line x1="1807.2" y1="322.3" x2="1823.5" y2="322.3" stroke="#000" stroke-width="3.5"/>
<text x="1800.6" y="332.3" font-size="30.5" text-anchor="end" transform="translate(1800.6 332.3) scale(1 1.04) translate(-1800.6 -332.3)">75</text>
<line x1="1807.2" y1="277.9" x2="1823.5" y2="277.9" stroke="#000" stroke-width="3.5"/>
<text x="1800.6" y="287.9" font-size="30.5" text-anchor="end" transform="translate(1800.6 287.9) scale(1 1.04) translate(-1800.6 -287.9)">100</text>
<line x1="1807.2" y1="233.5" x2="1823.5" y2="233.5" stroke="#000" stroke-width="3.5"/>
<text x="1800.6" y="243.5" font-size="30.5" text-anchor="end" transform="translate(1800.6 243.5) scale(1 1.04) translate(-1800.6 -243.5)">125</text>
<line x1="1823.3" y1="455.5" x2="1823.3" y2="472" stroke="#000" stroke-width="3.5"/>
<text x="1820.8" y="505.4" font-size="29" text-anchor="middle" transform="translate(1820.8 505.4) scale(1 1.04) translate(-1820.8 -505.4)">-1</text>
<line x1="1855.3" y1="455.5" x2="1855.3" y2="472" stroke="#000" stroke-width="3.5"/>
<text x="1855.3" y="505.4" font-size="29" text-anchor="middle" transform="translate(1855.3 505.4) scale(1 1.04) translate(-1855.3 -505.4)">0</text>
<line x1="1887.3" y1="455.5" x2="1887.3" y2="472" stroke="#000" stroke-width="3.5"/>
<text x="1887.3" y="505.4" font-size="29" text-anchor="middle" transform="translate(1887.3 505.4) scale(1 1.04) translate(-1887.3 -505.4)">1</text>
<line x1="1919.3" y1="455.5" x2="1919.3" y2="472" stroke="#000" stroke-width="3.5"/>
<text x="1919.3" y="505.4" font-size="29" text-anchor="middle" transform="translate(1919.3 505.4) scale(1 1.04) translate(-1919.3 -505.4)">2</text>
<line x1="1951.3" y1="455.5" x2="1951.3" y2="472" stroke="#000" stroke-width="3.5"/>
<text x="1951.3" y="505.4" font-size="29" text-anchor="middle" transform="translate(1951.3 505.4) scale(1 1.04) translate(-1951.3 -505.4)">3</text>
<line x1="1983.3" y1="455.5" x2="1983.3" y2="472" stroke="#000" stroke-width="3.5"/>
<text x="1983.3" y="505.4" font-size="29" text-anchor="middle" transform="translate(1983.3 505.4) scale(1 1.04) translate(-1983.3 -505.4)">4</text>
<text x="1904.7" y="550.9" font-size="29" text-anchor="middle" transform="translate(1904.7 550.9) scale(1 1.04) translate(-1904.7 -550.9)">KRASi, log(nM)</text>
<text x="1731.5" y="343.8" font-size="29.3" text-anchor="middle" transform="rotate(-90 1731.5 343.8) translate(1731.5 343.8) scale(1 1.04) translate(-1731.5 -343.8)">Intrinsic exchange, %</text>
<line x1="1854" y1="218.9" x2="1897" y2="218.9" stroke="#8f9ea6" stroke-width="2.3"/>
<circle cx="1875.2" cy="218.9" r="3.9" fill="#8f9ea6"/>
<text x="1920.5" y="229.3" font-size="28.8" transform="translate(1920.5 229.3) scale(1 1.04) translate(-1920.5 -229.3)">G13C</text>
<line x1="1854" y1="254.6" x2="1897" y2="254.6" stroke="#d0262a" stroke-width="2.3"/>
<circle cx="1875.2" cy="254.6" r="3.9" fill="#d0262a"/>
<text x="1920.5" y="264.4" font-size="28.8" transform="translate(1920.5 264.4) scale(1 1.04) translate(-1920.5 -264.4)">G13D</text>
<text x="-1.2" y="629.1" font-size="37" font-weight="bold" transform="translate(-1.2 629.1) scale(1 1.04) translate(1.2 -629.1)">e</text>
<path d="M142.8 711.2 L144.8 711.2 L146.8 711.2 L148.8 711.2 L150.8 711.2 L152.8 711.2 L154.8 711.3 L156.8 711.3 L158.8 711.3 L160.8 711.3 L162.8 711.3 L164.8 711.3 L166.8 711.3 L168.8 711.3 L170.8 711.3 L172.8 711.3 L174.8 711.4 L176.8 711.4 L178.8 711.4 L180.8 711.4 L182.8 711.5 L184.8 711.5 L186.8 711.5 L188.8 711.6 L190.8 711.6 L192.8 711.7 L194.8 711.7 L196.8 711.8 L198.8 711.9 L200.8 711.9 L202.8 712 L204.8 712.1 L206.8 712.2 L208.8 712.4 L210.8 712.5 L212.8 712.7 L214.8 712.9 L216.8 713.1 L218.8 713.3 L220.8 713.5 L222.8 713.8 L224.8 714.1 L226.8 714.4 L228.8 714.8 L230.8 715.3 L232.8 715.7 L234.8 716.3 L236.8 716.8 L238.8 717.5 L240.8 718.2 L242.8 719 L244.8 719.9 L246.8 720.8 L248.8 721.9 L250.8 723 L252.8 724.3 L254.8 725.7 L256.8 727.2 L258.8 728.8 L260.8 730.6 L262.8 732.5 L264.8 734.5 L266.8 736.7 L268.8 738.9 L270.8 741.4 L272.8 743.9 L274.8 746.6 L276.8 749.3 L278.8 752.2 L280.8 755.1 L282.8 758.1 L284.8 761.1 L286.8 764.2 L288.8 767.2 L290.8 770.3 L292.8 773.2 L294.8 776.2 L296.8 779 L298.8 781.8 L300.8 784.4 L302.8 787" fill="none" stroke="#949fa3" stroke-width="2.1"/>
<path d="M142.8 711.7 L144.8 711.8 L146.8 711.9 L148.8 712 L150.8 712.1 L152.8 712.2 L154.8 712.3 L156.8 712.4 L158.8 712.6 L160.8 712.8 L162.8 713 L164.8 713.2 L166.8 713.4 L168.8 713.7 L170.8 714 L172.8 714.4 L174.8 714.8 L176.8 715.2 L178.8 715.7 L180.8 716.3 L182.8 716.9 L184.8 717.6 L186.8 718.4 L188.8 719.2 L190.8 720.2 L192.8 721.3 L194.8 722.5 L196.8 723.8 L198.8 725.2 L200.8 726.8 L202.8 728.6 L204.8 730.5 L206.8 732.6 L208.8 734.9 L210.8 737.4 L212.8 740 L214.8 742.9 L216.8 745.9 L218.8 749.1 L220.8 752.6 L222.8 756.1 L224.8 759.9 L226.8 763.7 L228.8 767.7 L230.8 771.8 L232.8 775.9 L234.8 780.1 L236.8 784.2 L238.8 788.4 L240.8 792.4 L242.8 796.4 L244.8 800.3 L246.8 804 L248.8 807.6 L250.8 811 L252.8 814.2 L254.8 817.3 L256.8 820.1 L258.8 822.8 L260.8 825.3 L262.8 827.5 L264.8 829.6 L266.8 831.6 L268.8 833.3 L270.8 834.9 L272.8 836.4 L274.8 837.7 L276.8 838.9 L278.8 839.9 L280.8 840.9 L282.8 841.8 L284.8 842.6 L286.8 843.2 L288.8 843.9 L290.8 844.4 L292.8 844.9 L294.8 845.4 L296.8 845.8 L298.8 846.1 L300.8 846.4 L302.8 846.7" fill="none" stroke="#72d4f2" stroke-width="2.1"/>
<path d="M142.8 720.9 L144.8 720.9 L146.8 720.9 L148.8 720.9 L150.8 720.9 L152.8 720.9 L154.8 721 L156.8 721 L158.8 721 L160.8 721 L162.8 721 L164.8 721 L166.8 721 L168.8 721 L170.8 721 L172.8 721.1 L174.8 721.1 L176.8 721.1 L178.8 721.1 L180.8 721.2 L182.8 721.2 L184.8 721.3 L186.8 721.3 L188.8 721.4 L190.8 721.5 L192.8 721.6 L194.8 721.7 L196.8 721.8 L198.8 721.9 L200.8 722.1 L202.8 722.3 L204.8 722.5 L206.8 722.7 L208.8 723 L210.8 723.4 L212.8 723.8 L214.8 724.2 L216.8 724.7 L218.8 725.3 L220.8 726 L222.8 726.8 L224.8 727.7 L226.8 728.7 L228.8 729.8 L230.8 731.2 L232.8 732.7 L234.8 734.4 L236.8 736.3 L238.8 738.4 L240.8 740.7 L242.8 743.4 L244.8 746.2 L246.8 749.4 L248.8 752.8 L250.8 756.4 L252.8 760.3 L254.8 764.4 L256.8 768.7 L258.8 773.2 L260.8 777.7 L262.8 782.3 L264.8 786.9 L266.8 791.4 L268.8 795.8 L270.8 800.1 L272.8 804.2 L274.8 808.1 L276.8 811.8 L278.8 815.2 L280.8 818.3 L282.8 821.2 L284.8 823.8 L286.8 826.2 L288.8 828.3 L290.8 830.2 L292.8 831.9 L294.8 833.4 L296.8 834.7 L298.8 835.9 L300.8 836.9 L302.8 837.8" fill="none" stroke="#c38cf5" stroke-width="2.1"/>
<path d="M142.8 698.9 L144.8 698.9 L146.8 698.9 L148.8 698.9 L150.8 698.9 L152.8 698.9 L154.8 698.9 L156.8 698.9 L158.8 698.9 L160.8 698.9 L162.8 698.9 L164.8 698.9 L166.8 698.9 L168.8 699 L170.8 699 L172.8 699 L174.8 699 L176.8 699.1 L178.8 699.1 L180.8 699.2 L182.8 699.2 L184.8 699.3 L186.8 699.4 L188.8 699.5 L190.8 699.6 L192.8 699.8 L194.8 700 L196.8 700.2 L198.8 700.4 L200.8 700.7 L202.8 701 L204.8 701.4 L206.8 701.9 L208.8 702.5 L210.8 703.1 L212.8 703.9 L214.8 704.8 L216.8 705.9 L218.8 707.1 L220.8 708.5 L222.8 710.1 L224.8 711.9 L226.8 714 L228.8 716.4 L230.8 719 L232.8 722 L234.8 725.2 L236.8 728.7 L238.8 732.4 L240.8 736.4 L242.8 740.6 L244.8 744.8 L246.8 749.2 L248.8 753.5 L250.8 757.8 L252.8 761.9 L254.8 765.9 L256.8 769.6 L258.8 773.1 L260.8 776.4 L262.8 779.3 L264.8 781.9 L266.8 784.3 L268.8 786.4 L270.8 788.2 L272.8 789.9 L274.8 791.3 L276.8 792.5 L278.8 793.5 L280.8 794.4 L282.8 795.2 L284.8 795.9 L286.8 796.4 L288.8 796.9 L290.8 797.3 L292.8 797.6 L294.8 797.9 L296.8 798.2 L298.8 798.4 L300.8 798.6 L302.8 798.7" fill="none" stroke="#55249a" stroke-width="2.1"/>
<path d="M142.8 708.1 L144.8 708.2 L146.8 708.2 L148.8 708.3 L150.8 708.3 L152.8 708.4 L154.8 708.5 L156.8 708.6 L158.8 708.7 L160.8 708.8 L162.8 708.9 L164.8 709 L166.8 709.2 L168.8 709.3 L170.8 709.5 L172.8 709.7 L174.8 709.9 L176.8 710.2 L178.8 710.4 L180.8 710.7 L182.8 711.1 L184.8 711.4 L186.8 711.8 L188.8 712.2 L190.8 712.7 L192.8 713.3 L194.8 713.8 L196.8 714.5 L198.8 715.2 L200.8 715.9 L202.8 716.8 L204.8 717.7 L206.8 718.7 L208.8 719.8 L210.8 721 L212.8 722.3 L214.8 723.7 L216.8 725.2 L218.8 726.8 L220.8 728.6 L222.8 730.5 L224.8 732.5 L226.8 734.6 L228.8 736.9 L230.8 739.3 L232.8 741.9 L234.8 744.6 L236.8 747.4 L238.8 750.3 L240.8 753.3 L242.8 756.5 L244.8 759.7 L246.8 762.9 L248.8 766.3 L250.8 769.6 L252.8 773 L254.8 776.4 L256.8 779.8 L258.8 783.1 L260.8 786.4 L262.8 789.6 L264.8 792.7 L266.8 795.7 L268.8 798.6 L270.8 801.4 L272.8 804.1 L274.8 806.7 L276.8 809.1 L278.8 811.4 L280.8 813.5 L282.8 815.6 L284.8 817.4 L286.8 819.2 L288.8 820.8 L290.8 822.3 L292.8 823.7 L294.8 825 L296.8 826.2 L298.8 827.3 L300.8 828.3 L302.8 829.2" fill="none" stroke="#12908e" stroke-width="2.1"/>
<path d="M142.8 707.7 L144.8 707.7 L146.8 707.8 L148.8 707.8 L150.8 707.8 L152.8 707.8 L154.8 707.8 L156.8 707.9 L158.8 707.9 L160.8 708 L162.8 708 L164.8 708.1 L166.8 708.1 L168.8 708.2 L170.8 708.3 L172.8 708.4 L174.8 708.5 L176.8 708.7 L178.8 708.9 L180.8 709.1 L182.8 709.3 L184.8 709.6 L186.8 710 L188.8 710.3 L190.8 710.8 L192.8 711.3 L194.8 711.9 L196.8 712.6 L198.8 713.5 L200.8 714.4 L202.8 715.5 L204.8 716.7 L206.8 718.1 L208.8 719.7 L210.8 721.5 L212.8 723.5 L214.8 725.8 L216.8 728.3 L218.8 731 L220.8 733.9 L222.8 737.1 L224.8 740.5 L226.8 744 L228.8 747.7 L230.8 751.5 L232.8 755.3 L234.8 759.2 L236.8 763 L238.8 766.7 L240.8 770.2 L242.8 773.6 L244.8 776.8 L246.8 779.7 L248.8 782.4 L250.8 784.9 L252.8 787.2 L254.8 789.2 L256.8 791 L258.8 792.6 L260.8 794 L262.8 795.2 L264.8 796.3 L266.8 797.2 L268.8 798.1 L270.8 798.8 L272.8 799.4 L274.8 799.9 L276.8 800.4 L278.8 800.7 L280.8 801.1 L282.8 801.4 L284.8 801.6 L286.8 801.8 L288.8 802 L290.8 802.2 L292.8 802.3 L294.8 802.4 L296.8 802.5 L298.8 802.6 L300.8 802.6 L302.8 802.7" fill="none" stroke="#f0307a" stroke-width="2.1"/>
<path d="M142.8 690.1 L144.8 690.1 L146.8 690.1 L148.8 690.1 L150.8 690.1 L152.8 690.2 L154.8 690.2 L156.8 690.2 L158.8 690.2 L160.8 690.3 L162.8 690.3 L164.8 690.3 L166.8 690.4 L168.8 690.4 L170.8 690.5 L172.8 690.5 L174.8 690.6 L176.8 690.7 L178.8 690.8 L180.8 690.9 L182.8 691 L184.8 691.1 L186.8 691.3 L188.8 691.4 L190.8 691.6 L192.8 691.8 L194.8 692.1 L196.8 692.4 L198.8 692.7 L200.8 693 L202.8 693.4 L204.8 693.9 L206.8 694.4 L208.8 695 L210.8 695.6 L212.8 696.3 L214.8 697.2 L216.8 698.1 L218.8 699.1 L220.8 700.3 L222.8 701.6 L224.8 703 L226.8 704.6 L228.8 706.4 L230.8 708.4 L232.8 710.6 L234.8 713 L236.8 715.6 L238.8 718.5 L240.8 721.7 L242.8 725.1 L244.8 728.8 L246.8 732.8 L248.8 737 L250.8 741.5 L252.8 746.3 L254.8 751.2 L256.8 756.4 L258.8 761.7 L260.8 767.2 L262.8 772.7 L264.8 778.3 L266.8 783.9 L268.8 789.4 L270.8 794.9 L272.8 800.2 L274.8 805.4 L276.8 810.3 L278.8 815.1 L280.8 819.6 L282.8 823.8 L284.8 827.8 L286.8 831.5 L288.8 834.9 L290.8 838.1 L292.8 841 L294.8 843.6 L296.8 846 L298.8 848.2 L300.8 850.2 L302.8 852" fill="none" stroke="#000000" stroke-width="2.1"/>
<circle cx="142.8" cy="711.2" r="5.6" fill="#949fa3"/>
<circle cx="182.8" cy="721.4" r="5.6" fill="#949fa3"/>
<circle cx="222.8" cy="703.1" r="5.6" fill="#949fa3"/>
<circle cx="262.8" cy="730.4" r="5.6" fill="#949fa3"/>
<circle cx="302.8" cy="784.1" r="5.6" fill="#949fa3"/>
<circle cx="142.8" cy="711.2" r="5.6" fill="#72d4f2"/>
<circle cx="182.8" cy="719.3" r="5.6" fill="#72d4f2"/>
<circle cx="222.8" cy="773.7" r="5.6" fill="#72d4f2"/>
<circle cx="262.8" cy="812" r="5.6" fill="#72d4f2"/>
<circle cx="302.8" cy="857.2" r="5.6" fill="#72d4f2"/>
<circle cx="142.8" cy="711.2" r="5.6" fill="#c38cf5"/>
<circle cx="182.8" cy="731.9" r="5.6" fill="#c38cf5"/>
<circle cx="222.8" cy="729.2" r="5.6" fill="#c38cf5"/>
<circle cx="262.8" cy="774.4" r="5.6" fill="#c38cf5"/>
<circle cx="302.8" cy="835.5" r="5.6" fill="#c38cf5"/>
<circle cx="142.8" cy="711.2" r="5.6" fill="#55249a"/>
<circle cx="182.8" cy="693.5" r="5.6" fill="#55249a"/>
<circle cx="222.8" cy="718.4" r="5.6" fill="#55249a"/>
<circle cx="262.8" cy="775" r="5.6" fill="#55249a"/>
<circle cx="302.8" cy="790.7" r="5.6" fill="#55249a"/>
<circle cx="142.8" cy="711.2" r="5.6" fill="#12908e"/>
<circle cx="182.8" cy="701.8" r="5.6" fill="#12908e"/>
<circle cx="222.8" cy="736.3" r="5.6" fill="#12908e"/>
<circle cx="262.8" cy="790" r="5.6" fill="#12908e"/>
<circle cx="302.8" cy="832" r="5.6" fill="#12908e"/>
<circle cx="142.8" cy="711.2" r="5.6" fill="#f0307a"/>
<circle cx="182.8" cy="710.1" r="5.6" fill="#f0307a"/>
<circle cx="222.8" cy="743.2" r="5.6" fill="#f0307a"/>
<circle cx="262.8" cy="792.8" r="5.6" fill="#f0307a"/>
<circle cx="302.8" cy="799.9" r="5.6" fill="#f0307a"/>
<circle cx="142.8" cy="711.2" r="5.6" fill="#000000"/>
<circle cx="182.8" cy="688.2" r="5.6" fill="#000000"/>
<circle cx="222.8" cy="673.2" r="5.6" fill="#000000"/>
<circle cx="262.8" cy="778.8" r="5.6" fill="#000000"/>
<circle cx="302.8" cy="848.2" r="5.6" fill="#000000"/>
<line x1="142.8" y1="665" x2="142.8" y2="889.5" stroke="#000" stroke-width="3.5"/>
<line x1="125.5" y1="887.8" x2="304.4" y2="887.8" stroke="#000" stroke-width="3.5"/>
<line x1="127.1" y1="887.8" x2="142.8" y2="887.8" stroke="#000" stroke-width="3.5"/>
<text x="121.5" y="897.8" font-size="30" text-anchor="end" transform="translate(121.5 897.8) scale(1 1.04) translate(-121.5 -897.8)">0</text>
<line x1="127.1" y1="843.6" x2="142.8" y2="843.6" stroke="#000" stroke-width="3.5"/>
<text x="121.5" y="853.6" font-size="30" text-anchor="end" transform="translate(121.5 853.6) scale(1 1.04) translate(-121.5 -853.6)">25</text>
<line x1="127.1" y1="799.5" x2="142.8" y2="799.5" stroke="#000" stroke-width="3.5"/>
<text x="121.5" y="809.5" font-size="30" text-anchor="end" transform="translate(121.5 809.5) scale(1 1.04) translate(-121.5 -809.5)">50</text>
<line x1="127.1" y1="755.3" x2="142.8" y2="755.3" stroke="#000" stroke-width="3.5"/>
<text x="121.5" y="765.3" font-size="30" text-anchor="end" transform="translate(121.5 765.3) scale(1 1.04) translate(-121.5 -765.3)">75</text>
<line x1="127.1" y1="711.2" x2="142.8" y2="711.2" stroke="#000" stroke-width="3.5"/>
<text x="121.5" y="721.2" font-size="30" text-anchor="end" transform="translate(121.5 721.2) scale(1 1.04) translate(-121.5 -721.2)">100</text>
<line x1="127.1" y1="667" x2="142.8" y2="667" stroke="#000" stroke-width="3.5"/>
<text x="121.5" y="677" font-size="30" text-anchor="end" transform="translate(121.5 677) scale(1 1.04) translate(-121.5 -677)">125</text>
<line x1="142.8" y1="887.8" x2="142.8" y2="904" stroke="#000" stroke-width="3.5"/>
<text x="142.8" y="936.1" font-size="29" text-anchor="middle" transform="translate(142.8 936.1) scale(1 1.04) translate(-142.8 -936.1)">0</text>
<line x1="182.8" y1="887.8" x2="182.8" y2="904" stroke="#000" stroke-width="3.5"/>
<text x="182.8" y="936.1" font-size="29" text-anchor="middle" transform="translate(182.8 936.1) scale(1 1.04) translate(-182.8 -936.1)">1</text>
<line x1="222.8" y1="887.8" x2="222.8" y2="904" stroke="#000" stroke-width="3.5"/>
<text x="222.8" y="936.1" font-size="29" text-anchor="middle" transform="translate(222.8 936.1) scale(1 1.04) translate(-222.8 -936.1)">2</text>
<line x1="262.8" y1="887.8" x2="262.8" y2="904" stroke="#000" stroke-width="3.5"/>
<text x="262.8" y="936.1" font-size="29" text-anchor="middle" transform="translate(262.8 936.1) scale(1 1.04) translate(-262.8 -936.1)">3</text>
<line x1="302.8" y1="887.8" x2="302.8" y2="904" stroke="#000" stroke-width="3.5"/>
<text x="302.8" y="936.1" font-size="29" text-anchor="middle" transform="translate(302.8 936.1) scale(1 1.04) translate(-302.8 -936.1)">4</text>
<text x="223.4" y="974" font-size="29.5" text-anchor="middle" transform="translate(223.4 974) scale(1 1.04) translate(-223.4 -974)">KRASi, log(nM)</text>
<text x="53" y="776" font-size="29.3" text-anchor="middle" transform="rotate(-90 53 776) translate(53 776) scale(1 1.04) translate(-53 -776)">KRAS-GNP:RBD, %</text>
<line x1="326.4" y1="659.1" x2="368.4" y2="659.1" stroke="#000000" stroke-width="2"/>
<circle cx="347.5" cy="659.1" r="5.6" fill="#000000"/>
<text x="391.5" y="669.8" font-size="29.5" transform="translate(391.5 669.8) scale(1 1.04) translate(-391.5 -669.8)">WT</text>
<line x1="326.4" y1="696.1" x2="368.4" y2="696.1" stroke="#f0307a" stroke-width="2"/>
<circle cx="347.5" cy="696.1" r="5.6" fill="#f0307a"/>
<text x="391.5" y="706.8" font-size="29.5" transform="translate(391.5 706.8) scale(1 1.04) translate(-391.5 -706.8)">G12C</text>
<line x1="326.4" y1="733.2" x2="368.4" y2="733.2" stroke="#12908e" stroke-width="2"/>
<circle cx="347.5" cy="733.2" r="5.6" fill="#12908e"/>
<text x="391.5" y="743.9" font-size="29.5" transform="translate(391.5 743.9) scale(1 1.04) translate(-391.5 -743.9)">G12D</text>
<line x1="326.4" y1="770.2" x2="368.4" y2="770.2" stroke="#55249a" stroke-width="2"/>
<circle cx="347.5" cy="770.2" r="5.6" fill="#55249a"/>
<text x="391.5" y="780.9" font-size="29.5" transform="translate(391.5 780.9) scale(1 1.04) translate(-391.5 -780.9)">G12V</text>
<line x1="326.4" y1="807.2" x2="368.4" y2="807.2" stroke="#c38cf5" stroke-width="2"/>
<circle cx="347.5" cy="807.2" r="5.6" fill="#c38cf5"/>
<text x="391.5" y="817.9" font-size="29.5" transform="translate(391.5 817.9) scale(1 1.04) translate(-391.5 -817.9)">G13C</text>
<line x1="326.4" y1="844.2" x2="368.4" y2="844.2" stroke="#72d4f2" stroke-width="2"/>
<circle cx="347.5" cy="844.2" r="5.6" fill="#72d4f2"/>
<text x="391.5" y="855" font-size="29.5" transform="translate(391.5 855) scale(1 1.04) translate(-391.5 -855)">G13D</text>
<line x1="326.4" y1="881.3" x2="368.4" y2="881.3" stroke="#949fa3" stroke-width="2"/>
<circle cx="347.5" cy="881.3" r="5.6" fill="#949fa3"/>
<text x="391.5" y="892" font-size="29.5" transform="translate(391.5 892) scale(1 1.04) translate(-391.5 -892)">Q61H</text>
<text x="507" y="628.8" font-size="37" font-weight="bold" transform="translate(507 628.8) scale(1 1.04) translate(-507 -628.8)">f</text>
<path d="M703.6 740.8 L705.6 740.9 L707.6 741 L709.6 741.2 L711.6 741.3 L713.6 741.5 L715.6 741.8 L717.7 742 L719.7 742.3 L721.7 742.7 L723.7 743.1 L725.7 743.6 L727.7 744.2 L729.7 744.8 L731.7 745.6 L733.7 746.5 L735.7 747.5 L737.7 748.6 L739.7 749.8 L741.7 751.2 L743.8 752.7 L745.8 754.3 L747.8 756.1 L749.8 758 L751.8 759.9 L753.8 761.9 L755.8 764 L757.8 766 L759.8 768 L761.8 770 L763.8 771.8 L765.8 773.6 L767.8 775.3 L769.8 776.8 L771.9 778.2 L773.9 779.4 L775.9 780.5 L777.9 781.5 L779.9 782.4 L781.9 783.1 L783.9 783.8 L785.9 784.4 L787.9 784.8 L789.9 785.3 L791.9 785.6 L793.9 785.9 L795.9 786.2 L798 786.4 L800 786.6 L802 786.8 L804 786.9 L806 787 L808 787.1 L810 787.2 L812 787.3 L814 787.3 L816 787.4 L818 787.4 L820 787.5 L822 787.5 L824 787.5 L826.1 787.5 L828.1 787.6 L830.1 787.6 L832.1 787.6 L834.1 787.6 L836.1 787.6 L838.1 787.6 L840.1 787.6 L842.1 787.6 L844.1 787.6 L846.1 787.6 L848.1 787.6 L850.1 787.6 L852.2 787.6 L854.2 787.6 L856.2 787.7 L858.2 787.7 L860.2 787.7 L862.2 787.7 L864.2 787.7" fill="none" stroke="#949fa3" stroke-width="1.9" stroke-dasharray="5 4"/>
<path d="M703.6 740.3 L705.6 740.3 L707.6 740.3 L709.6 740.3 L711.6 740.3 L713.6 740.3 L715.6 740.3 L717.7 740.3 L719.7 740.3 L721.7 740.3 L723.7 740.3 L725.7 740.3 L727.7 740.3 L729.7 740.3 L731.7 740.3 L733.7 740.3 L735.7 740.3 L737.7 740.3 L739.7 740.3 L741.7 740.3 L743.8 740.3 L745.8 740.3 L747.8 740.3 L749.8 740.3 L751.8 740.3 L753.8 740.3 L755.8 740.3 L757.8 740.3 L759.8 740.3 L761.8 740.3 L763.8 740.3 L765.8 740.3 L767.8 740.3 L769.8 740.3 L771.9 740.3 L773.9 740.3 L775.9 740.3 L777.9 740.3 L779.9 740.3 L781.9 740.3 L783.9 740.3 L785.9 740.3 L787.9 740.4 L789.9 740.4 L791.9 740.4 L793.9 740.4 L795.9 740.4 L798 740.5 L800 740.5 L802 740.6 L804 740.7 L806 740.7 L808 740.9 L810 741 L812 741.2 L814 741.4 L816 741.7 L818 742 L820 742.5 L822 743 L824 743.6 L826.1 744.4 L828.1 745.4 L830.1 746.6 L832.1 748 L834.1 749.7 L836.1 751.6 L838.1 753.8 L840.1 756.3 L842.1 759.1 L844.1 762.1 L846.1 765.2 L848.1 768.4 L850.1 771.6 L852.2 774.8 L854.2 777.8 L856.2 780.5 L858.2 783 L860.2 785.2 L862.2 787.2 L864.2 788.8" fill="none" stroke="#72d4f2" stroke-width="1.9" stroke-dasharray="5 4"/>
<path d="M703.6 740.3 L705.6 740.3 L707.6 740.3 L709.6 740.3 L711.6 740.3 L713.6 740.3 L715.6 740.3 L717.7 740.3 L719.7 740.3 L721.7 740.3 L723.7 740.3 L725.7 740.3 L727.7 740.3 L729.7 740.3 L731.7 740.3 L733.7 740.3 L735.7 740.3 L737.7 740.3 L739.7 740.3 L741.7 740.4 L743.8 740.4 L745.8 740.4 L747.8 740.4 L749.8 740.4 L751.8 740.4 L753.8 740.4 L755.8 740.5 L757.8 740.5 L759.8 740.5 L761.8 740.6 L763.8 740.6 L765.8 740.7 L767.8 740.8 L769.8 740.9 L771.9 741 L773.9 741.1 L775.9 741.3 L777.9 741.4 L779.9 741.7 L781.9 741.9 L783.9 742.2 L785.9 742.6 L787.9 743 L789.9 743.4 L791.9 744 L793.9 744.6 L795.9 745.4 L798 746.3 L800 747.3 L802 748.4 L804 749.7 L806 751.1 L808 752.8 L810 754.6 L812 756.6 L814 758.7 L816 761.1 L818 763.5 L820 766.1 L822 768.7 L824 771.4 L826.1 774.1 L828.1 776.7 L830.1 779.3 L832.1 781.7 L834.1 784 L836.1 786.2 L838.1 788.2 L840.1 790 L842.1 791.6 L844.1 793.1 L846.1 794.4 L848.1 795.5 L850.1 796.5 L852.2 797.4 L854.2 798.1 L856.2 798.8 L858.2 799.3 L860.2 799.8 L862.2 800.2 L864.2 800.6" fill="none" stroke="#c38cf5" stroke-width="1.9" stroke-dasharray="5 4"/>
<path d="M703.6 740.2 L705.6 740.2 L707.6 740.1 L709.6 740.1 L711.6 740.1 L713.6 740.1 L715.6 740 L717.7 740 L719.7 739.9 L721.7 739.9 L723.7 739.8 L725.7 739.8 L727.7 739.7 L729.7 739.6 L731.7 739.5 L733.7 739.4 L735.7 739.3 L737.7 739.2 L739.7 739.1 L741.7 738.9 L743.8 738.7 L745.8 738.5 L747.8 738.3 L749.8 738 L751.8 737.7 L753.8 737.4 L755.8 737 L757.8 736.6 L759.8 736.2 L761.8 735.7 L763.8 735.1 L765.8 734.5 L767.8 733.9 L769.8 733.1 L771.9 732.3 L773.9 731.5 L775.9 730.5 L777.9 729.5 L779.9 728.5 L781.9 727.3 L783.9 726.2 L785.9 724.9 L787.9 723.6 L789.9 722.3 L791.9 720.9 L793.9 719.5 L795.9 718.1 L798 716.7 L800 715.3 L802 713.9 L804 712.6 L806 711.3 L808 710 L810 708.9 L812 707.7 L814 706.7 L816 705.7 L818 704.7 L820 703.9 L822 703.1 L824 702.3 L826.1 701.7 L828.1 701.1 L830.1 700.5 L832.1 700 L834.1 699.6 L836.1 699.2 L838.1 698.8 L840.1 698.5 L842.1 698.2 L844.1 697.9 L846.1 697.7 L848.1 697.5 L850.1 697.3 L852.2 697.1 L854.2 697 L856.2 696.9 L858.2 696.8 L860.2 696.7 L862.2 696.6 L864.2 696.5" fill="none" stroke="#55249a" stroke-width="1.9" stroke-dasharray="5 4"/>
<path d="M703.6 740.3 L705.6 740.3 L707.6 740.3 L709.6 740.3 L711.6 740.3 L713.6 740.3 L715.6 740.3 L717.7 740.3 L719.7 740.3 L721.7 740.3 L723.7 740.3 L725.7 740.3 L727.7 740.3 L729.7 740.3 L731.7 740.3 L733.7 740.4 L735.7 740.4 L737.7 740.4 L739.7 740.4 L741.7 740.4 L743.8 740.4 L745.8 740.4 L747.8 740.5 L749.8 740.5 L751.8 740.5 L753.8 740.6 L755.8 740.6 L757.8 740.7 L759.8 740.7 L761.8 740.8 L763.8 740.9 L765.8 741 L767.8 741.1 L769.8 741.2 L771.9 741.4 L773.9 741.6 L775.9 741.8 L777.9 742 L779.9 742.3 L781.9 742.6 L783.9 742.9 L785.9 743.3 L787.9 743.7 L789.9 744.2 L791.9 744.8 L793.9 745.4 L795.9 746 L798 746.7 L800 747.4 L802 748.2 L804 749 L806 749.8 L808 750.7 L810 751.5 L812 752.3 L814 753.1 L816 753.9 L818 754.6 L820 755.3 L822 756 L824 756.5 L826.1 757.1 L828.1 757.6 L830.1 758 L832.1 758.4 L834.1 758.8 L836.1 759.1 L838.1 759.3 L840.1 759.6 L842.1 759.8 L844.1 759.9 L846.1 760.1 L848.1 760.2 L850.1 760.3 L852.2 760.4 L854.2 760.5 L856.2 760.6 L858.2 760.7 L860.2 760.7 L862.2 760.8 L864.2 760.8" fill="none" stroke="#12908e" stroke-width="1.9" stroke-dasharray="5 4"/>
<path d="M703.6 740.3 L705.6 740.3 L707.6 740.3 L709.6 740.3 L711.6 740.3 L713.6 740.3 L715.6 740.3 L717.7 740.3 L719.7 740.3 L721.7 740.3 L723.7 740.3 L725.7 740.3 L727.7 740.3 L729.7 740.3 L731.7 740.3 L733.7 740.3 L735.7 740.3 L737.7 740.3 L739.7 740.3 L741.7 740.3 L743.8 740.3 L745.8 740.3 L747.8 740.3 L749.8 740.3 L751.8 740.3 L753.8 740.3 L755.8 740.3 L757.8 740.3 L759.8 740.3 L761.8 740.4 L763.8 740.4 L765.8 740.4 L767.8 740.4 L769.8 740.4 L771.9 740.4 L773.9 740.5 L775.9 740.5 L777.9 740.5 L779.9 740.6 L781.9 740.6 L783.9 740.7 L785.9 740.7 L787.9 740.8 L789.9 740.9 L791.9 741 L793.9 741.2 L795.9 741.3 L798 741.5 L800 741.7 L802 742 L804 742.2 L806 742.6 L808 742.9 L810 743.4 L812 743.9 L814 744.4 L816 745.1 L818 745.7 L820 746.5 L822 747.3 L824 748.2 L826.1 749.1 L828.1 750.1 L830.1 751.1 L832.1 752.1 L834.1 753.2 L836.1 754.2 L838.1 755.1 L840.1 756.1 L842.1 757 L844.1 757.8 L846.1 758.5 L848.1 759.2 L850.1 759.8 L852.2 760.4 L854.2 760.9 L856.2 761.3 L858.2 761.7 L860.2 762 L862.2 762.3 L864.2 762.6" fill="none" stroke="#f0307a" stroke-width="1.9" stroke-dasharray="5 4"/>
<rect x="699.3" y="736" width="8.6" height="8.6" fill="none" stroke="#949fa3" stroke-width="1.8"/>
<rect x="739.5" y="751.2" width="8.6" height="8.6" fill="none" stroke="#949fa3" stroke-width="1.8"/>
<rect x="767.6" y="763.5" width="8.6" height="8.6" fill="none" stroke="#949fa3" stroke-width="1.8"/>
<rect x="779.6" y="779.8" width="8.6" height="8.6" fill="none" stroke="#949fa3" stroke-width="1.8"/>
<rect x="807.7" y="784.7" width="8.6" height="8.6" fill="none" stroke="#949fa3" stroke-width="1.8"/>
<rect x="819.8" y="801.3" width="8.6" height="8.6" fill="none" stroke="#949fa3" stroke-width="1.8"/>
<rect x="847.9" y="776.8" width="8.6" height="8.6" fill="none" stroke="#949fa3" stroke-width="1.8"/>
<rect x="859.9" y="769.2" width="8.6" height="8.6" fill="none" stroke="#949fa3" stroke-width="1.8"/>
<rect x="699.3" y="736" width="8.6" height="8.6" fill="none" stroke="#72d4f2" stroke-width="1.8"/>
<rect x="739.5" y="736" width="8.6" height="8.6" fill="none" stroke="#72d4f2" stroke-width="1.8"/>
<rect x="767.6" y="749.5" width="8.6" height="8.6" fill="none" stroke="#72d4f2" stroke-width="1.8"/>
<rect x="779.6" y="739.7" width="8.6" height="8.6" fill="none" stroke="#72d4f2" stroke-width="1.8"/>
<rect x="807.7" y="746.4" width="8.6" height="8.6" fill="none" stroke="#72d4f2" stroke-width="1.8"/>
<rect x="819.8" y="746.8" width="8.6" height="8.6" fill="none" stroke="#72d4f2" stroke-width="1.8"/>
<rect x="847.9" y="770.3" width="8.6" height="8.6" fill="none" stroke="#72d4f2" stroke-width="1.8"/>
<rect x="859.9" y="789.1" width="8.6" height="8.6" fill="none" stroke="#72d4f2" stroke-width="1.8"/>
<rect x="699.3" y="736" width="8.6" height="8.6" fill="none" stroke="#c38cf5" stroke-width="1.8"/>
<rect x="739.5" y="734.5" width="8.6" height="8.6" fill="none" stroke="#c38cf5" stroke-width="1.8"/>
<rect x="767.6" y="729.8" width="8.6" height="8.6" fill="none" stroke="#c38cf5" stroke-width="1.8"/>
<rect x="779.6" y="755.4" width="8.6" height="8.6" fill="none" stroke="#c38cf5" stroke-width="1.8"/>
<rect x="807.7" y="732.3" width="8.6" height="8.6" fill="none" stroke="#c38cf5" stroke-width="1.8"/>
<rect x="819.8" y="779.5" width="8.6" height="8.6" fill="none" stroke="#c38cf5" stroke-width="1.8"/>
<rect x="847.9" y="795.5" width="8.6" height="8.6" fill="none" stroke="#c38cf5" stroke-width="1.8"/>
<rect x="859.9" y="793.7" width="8.6" height="8.6" fill="none" stroke="#c38cf5" stroke-width="1.8"/>
<rect x="699.3" y="736" width="8.6" height="8.6" fill="none" stroke="#55249a" stroke-width="1.8"/>
<rect x="739.5" y="724.6" width="8.6" height="8.6" fill="none" stroke="#55249a" stroke-width="1.8"/>
<rect x="767.6" y="730.1" width="8.6" height="8.6" fill="none" stroke="#55249a" stroke-width="1.8"/>
<rect x="779.6" y="715.9" width="8.6" height="8.6" fill="none" stroke="#55249a" stroke-width="1.8"/>
<rect x="807.7" y="716.5" width="8.6" height="8.6" fill="none" stroke="#55249a" stroke-width="1.8"/>
<rect x="819.8" y="690.3" width="8.6" height="8.6" fill="none" stroke="#55249a" stroke-width="1.8"/>
<rect x="847.9" y="683.5" width="8.6" height="8.6" fill="none" stroke="#55249a" stroke-width="1.8"/>
<rect x="859.9" y="703.7" width="8.6" height="8.6" fill="none" stroke="#55249a" stroke-width="1.8"/>
<rect x="699.3" y="736" width="8.6" height="8.6" fill="none" stroke="#12908e" stroke-width="1.8"/>
<rect x="739.5" y="734.5" width="8.6" height="8.6" fill="none" stroke="#12908e" stroke-width="1.8"/>
<rect x="767.6" y="736" width="8.6" height="8.6" fill="none" stroke="#12908e" stroke-width="1.8"/>
<rect x="779.6" y="743.3" width="8.6" height="8.6" fill="none" stroke="#12908e" stroke-width="1.8"/>
<rect x="807.7" y="754.2" width="8.6" height="8.6" fill="none" stroke="#12908e" stroke-width="1.8"/>
<rect x="819.8" y="748.3" width="8.6" height="8.6" fill="none" stroke="#12908e" stroke-width="1.8"/>
<rect x="847.9" y="749.3" width="8.6" height="8.6" fill="none" stroke="#12908e" stroke-width="1.8"/>
<rect x="859.9" y="755.1" width="8.6" height="8.6" fill="none" stroke="#12908e" stroke-width="1.8"/>
<rect x="699.3" y="736" width="8.6" height="8.6" fill="none" stroke="#f0307a" stroke-width="1.8"/>
<rect x="739.5" y="735.1" width="8.6" height="8.6" fill="none" stroke="#f0307a" stroke-width="1.8"/>
<rect x="767.6" y="737.5" width="8.6" height="8.6" fill="none" stroke="#f0307a" stroke-width="1.8"/>
<rect x="779.6" y="735.1" width="8.6" height="8.6" fill="none" stroke="#f0307a" stroke-width="1.8"/>
<rect x="807.7" y="736.3" width="8.6" height="8.6" fill="none" stroke="#f0307a" stroke-width="1.8"/>
<rect x="819.8" y="746.8" width="8.6" height="8.6" fill="none" stroke="#f0307a" stroke-width="1.8"/>
<rect x="847.9" y="756.9" width="8.6" height="8.6" fill="none" stroke="#f0307a" stroke-width="1.8"/>
<rect x="859.9" y="759.4" width="8.6" height="8.6" fill="none" stroke="#f0307a" stroke-width="1.8"/>
<path d="M703.6 740.3 L705.6 742.7 L707.6 745.3 L709.6 748.2 L711.6 751.4 L713.6 754.8 L715.6 758.6 L717.7 762.7 L719.7 767 L721.7 771.7 L723.7 776.6 L725.7 781.7 L727.7 787 L729.7 792.5 L731.7 798.1 L733.7 803.7 L735.7 809.3 L737.7 814.9 L739.7 820.4 L741.7 825.7 L743.8 830.8 L745.8 835.7 L747.8 840.4 L749.8 844.7 L751.8 848.8 L753.8 852.6 L755.8 856 L757.8 859.2 L759.8 862.1 L761.8 864.7 L763.8 867.1 L765.8 869.2 L767.8 871.1 L769.8 872.8 L771.9 874.3 L773.9 875.6 L775.9 876.8 L777.9 877.9 L779.9 878.8 L781.9 879.6 L783.9 880.3 L785.9 881 L787.9 881.5 L789.9 882 L791.9 882.4 L793.9 882.8 L795.9 883.1 L798 883.4 L800 883.6 L802 883.9 L804 884.1 L806 884.2 L808 884.4 L810 884.5 L812 884.6 L814 884.7 L816 884.8 L818 884.8 L820 884.9 L822 885 L824 885 L826.1 885.1 L828.1 885.1 L830.1 885.1 L832.1 885.2 L834.1 885.2 L836.1 885.2 L838.1 885.2 L840.1 885.2 L842.1 885.2 L844.1 885.3 L846.1 885.3 L848.1 885.3 L850.1 885.3 L852.2 885.3 L854.2 885.3 L856.2 885.3 L858.2 885.3 L860.2 885.3 L862.2 885.3 L864.2 885.3" fill="none" stroke="#949fa3" stroke-width="2.1"/>
<path d="M703.6 740.3 L705.6 740.5 L707.6 740.7 L709.6 740.9 L711.6 741.2 L713.6 741.5 L715.6 741.9 L717.7 742.4 L719.7 742.9 L721.7 743.4 L723.7 744.1 L725.7 744.9 L727.7 745.8 L729.7 746.8 L731.7 747.9 L733.7 749.2 L735.7 750.7 L737.7 752.4 L739.7 754.3 L741.7 756.5 L743.8 758.9 L745.8 761.6 L747.8 764.6 L749.8 767.9 L751.8 771.5 L753.8 775.5 L755.8 779.7 L757.8 784.2 L759.8 789 L761.8 794 L763.8 799.3 L765.8 804.6 L767.8 810.1 L769.8 815.5 L771.9 821 L773.9 826.3 L775.9 831.5 L777.9 836.5 L779.9 841.2 L781.9 845.7 L783.9 849.9 L785.9 853.7 L787.9 857.3 L789.9 860.5 L791.9 863.4 L793.9 866.1 L795.9 868.5 L798 870.6 L800 872.4 L802 874.1 L804 875.6 L806 876.8 L808 878 L810 878.9 L812 879.8 L814 880.5 L816 881.2 L818 881.8 L820 882.2 L822 882.7 L824 883 L826.1 883.3 L828.1 883.6 L830.1 883.9 L832.1 884.1 L834.1 884.2 L836.1 884.4 L838.1 884.5 L840.1 884.6 L842.1 884.7 L844.1 884.8 L846.1 884.9 L848.1 885 L850.1 885 L852.2 885.1 L854.2 885.1 L856.2 885.1 L858.2 885.2 L860.2 885.2 L862.2 885.2 L864.2 885.2" fill="none" stroke="#72d4f2" stroke-width="2.1"/>
<path d="M703.6 740.3 L705.6 743.2 L707.6 746.5 L709.6 750.3 L711.6 754.5 L713.6 759.3 L715.6 764.7 L717.7 770.5 L719.7 776.9 L721.7 783.6 L723.7 790.7 L725.7 798.1 L727.7 805.5 L729.7 813 L731.7 820.3 L733.7 827.4 L735.7 834.2 L737.7 840.5 L739.7 846.4 L741.7 851.7 L743.8 856.5 L745.8 860.8 L747.8 864.6 L749.8 867.9 L751.8 870.8 L753.8 873.2 L755.8 875.4 L757.8 877.2 L759.8 878.7 L761.8 880 L763.8 881.1 L765.8 882.1 L767.8 882.8 L769.8 883.5 L771.9 884 L773.9 884.5 L775.9 884.9 L777.9 885.2 L779.9 885.5 L781.9 885.7 L783.9 885.9 L785.9 886 L787.9 886.2 L789.9 886.3 L791.9 886.4 L793.9 886.4 L795.9 886.5 L798 886.6 L800 886.6 L802 886.6 L804 886.7 L806 886.7 L808 886.7 L810 886.7 L812 886.7 L814 886.8 L816 886.8 L818 886.8 L820 886.8 L822 886.8 L824 886.8 L826.1 886.8 L828.1 886.8 L830.1 886.8 L832.1 886.8 L834.1 886.8 L836.1 886.8 L838.1 886.8 L840.1 886.8 L842.1 886.8 L844.1 886.8 L846.1 886.8 L848.1 886.8 L850.1 886.8 L852.2 886.8 L854.2 886.8 L856.2 886.8 L858.2 886.8 L860.2 886.8 L862.2 886.8 L864.2 886.8" fill="none" stroke="#c38cf5" stroke-width="2.1"/>
<path d="M703.6 740.3 L705.6 740.6 L707.6 741 L709.6 741.5 L711.6 741.9 L713.6 742.5 L715.6 743.1 L717.7 743.7 L719.7 744.4 L721.7 745.2 L723.7 746.1 L725.7 747.1 L727.7 748.1 L729.7 749.3 L731.7 750.6 L733.7 752 L735.7 753.5 L737.7 755.1 L739.7 756.9 L741.7 758.8 L743.8 760.8 L745.8 763 L747.8 765.3 L749.8 767.7 L751.8 770.3 L753.8 772.9 L755.8 775.7 L757.8 778.6 L759.8 781.5 L761.8 784.5 L763.8 787.6 L765.8 790.6 L767.8 793.7 L769.8 796.7 L771.9 799.7 L773.9 802.7 L775.9 805.6 L777.9 808.3 L779.9 811 L781.9 813.6 L783.9 816 L785.9 818.3 L787.9 820.5 L789.9 822.5 L791.9 824.4 L793.9 826.2 L795.9 827.8 L798 829.3 L800 830.7 L802 832 L804 833.2 L806 834.2 L808 835.2 L810 836.1 L812 836.9 L814 837.6 L816 838.2 L818 838.8 L820 839.3 L822 839.8 L824 840.3 L826.1 840.6 L828.1 841 L830.1 841.3 L832.1 841.6 L834.1 841.8 L836.1 842 L838.1 842.2 L840.1 842.4 L842.1 842.6 L844.1 842.7 L846.1 842.8 L848.1 843 L850.1 843.1 L852.2 843.2 L854.2 843.2 L856.2 843.3 L858.2 843.4 L860.2 843.4 L862.2 843.5 L864.2 843.5" fill="none" stroke="#55249a" stroke-width="2.1"/>
<path d="M703.6 740.3 L705.6 740.7 L707.6 741.2 L709.6 741.7 L711.6 742.3 L713.6 742.9 L715.6 743.7 L717.7 744.5 L719.7 745.4 L721.7 746.5 L723.7 747.7 L725.7 748.9 L727.7 750.4 L729.7 752 L731.7 753.8 L733.7 755.7 L735.7 757.8 L737.7 760.2 L739.7 762.7 L741.7 765.5 L743.8 768.5 L745.8 771.7 L747.8 775.1 L749.8 778.7 L751.8 782.5 L753.8 786.5 L755.8 790.7 L757.8 795 L759.8 799.3 L761.8 803.8 L763.8 808.3 L765.8 812.8 L767.8 817.3 L769.8 821.7 L771.9 825.9 L773.9 830.1 L775.9 834.1 L777.9 837.9 L779.9 841.5 L781.9 844.9 L783.9 848.1 L785.9 851.1 L787.9 853.9 L789.9 856.4 L791.9 858.8 L793.9 860.9 L795.9 862.9 L798 864.6 L800 866.2 L802 867.7 L804 869 L806 870.1 L808 871.2 L810 872.1 L812 872.9 L814 873.7 L816 874.3 L818 874.9 L820 875.4 L822 875.9 L824 876.3 L826.1 876.7 L828.1 877 L830.1 877.3 L832.1 877.5 L834.1 877.7 L836.1 877.9 L838.1 878.1 L840.1 878.3 L842.1 878.4 L844.1 878.5 L846.1 878.6 L848.1 878.7 L850.1 878.8 L852.2 878.9 L854.2 878.9 L856.2 879 L858.2 879.1 L860.2 879.1 L862.2 879.1 L864.2 879.2" fill="none" stroke="#12908e" stroke-width="2.1"/>
<path d="M703.6 740.3 L705.6 742.7 L707.6 745.3 L709.6 748.1 L711.6 751.2 L713.6 754.5 L715.6 758.1 L717.7 761.9 L719.7 765.9 L721.7 770.1 L723.7 774.6 L725.7 779.2 L727.7 784 L729.7 788.9 L731.7 793.8 L733.7 798.8 L735.7 803.8 L737.7 808.8 L739.7 813.7 L741.7 818.4 L743.8 823.1 L745.8 827.5 L747.8 831.8 L749.8 835.8 L751.8 839.6 L753.8 843.1 L755.8 846.5 L757.8 849.5 L759.8 852.4 L761.8 855 L763.8 857.3 L765.8 859.5 L767.8 861.5 L769.8 863.3 L771.9 864.9 L773.9 866.3 L775.9 867.6 L777.9 868.8 L779.9 869.8 L781.9 870.7 L783.9 871.5 L785.9 872.3 L787.9 872.9 L789.9 873.5 L791.9 874 L793.9 874.5 L795.9 874.9 L798 875.2 L800 875.6 L802 875.8 L804 876.1 L806 876.3 L808 876.5 L810 876.7 L812 876.8 L814 876.9 L816 877.1 L818 877.2 L820 877.3 L822 877.3 L824 877.4 L826.1 877.5 L828.1 877.5 L830.1 877.6 L832.1 877.6 L834.1 877.7 L836.1 877.7 L838.1 877.7 L840.1 877.7 L842.1 877.8 L844.1 877.8 L846.1 877.8 L848.1 877.8 L850.1 877.8 L852.2 877.9 L854.2 877.9 L856.2 877.9 L858.2 877.9 L860.2 877.9 L862.2 877.9 L864.2 877.9" fill="none" stroke="#f0307a" stroke-width="2.1"/>
<circle cx="703.6" cy="740.3" r="3.6" fill="#949fa3"/>
<circle cx="743.8" cy="832.7" r="3.6" fill="#949fa3"/>
<circle cx="771.9" cy="873.1" r="3.6" fill="#949fa3"/>
<circle cx="783.9" cy="882.4" r="3.6" fill="#949fa3"/>
<circle cx="812" cy="887.6" r="3.6" fill="#949fa3"/>
<circle cx="824" cy="886.8" r="3.6" fill="#949fa3"/>
<circle cx="852.2" cy="886.8" r="3.6" fill="#949fa3"/>
<circle cx="864.2" cy="886.8" r="3.6" fill="#949fa3"/>
<circle cx="703.6" cy="740.3" r="3.6" fill="#72d4f2"/>
<circle cx="743.8" cy="762.5" r="3.6" fill="#72d4f2"/>
<circle cx="771.9" cy="813.4" r="3.6" fill="#72d4f2"/>
<circle cx="783.9" cy="851.7" r="3.6" fill="#72d4f2"/>
<circle cx="812" cy="883.9" r="3.6" fill="#72d4f2"/>
<circle cx="824" cy="885.3" r="3.6" fill="#72d4f2"/>
<circle cx="852.2" cy="886.1" r="3.6" fill="#72d4f2"/>
<circle cx="864.2" cy="886.1" r="3.6" fill="#72d4f2"/>
<circle cx="703.6" cy="740.3" r="3.6" fill="#c38cf5"/>
<circle cx="743.8" cy="856.9" r="3.6" fill="#c38cf5"/>
<circle cx="771.9" cy="884.7" r="3.6" fill="#c38cf5"/>
<circle cx="783.9" cy="881.9" r="3.6" fill="#c38cf5"/>
<circle cx="812" cy="883.9" r="3.6" fill="#c38cf5"/>
<circle cx="824" cy="883.9" r="3.6" fill="#c38cf5"/>
<circle cx="852.2" cy="883.9" r="3.6" fill="#c38cf5"/>
<circle cx="864.2" cy="884.6" r="3.6" fill="#c38cf5"/>
<circle cx="703.6" cy="740.3" r="3.6" fill="#55249a"/>
<circle cx="743.8" cy="770.2" r="3.6" fill="#55249a"/>
<circle cx="771.9" cy="802.6" r="3.6" fill="#55249a"/>
<circle cx="783.9" cy="803.3" r="3.6" fill="#55249a"/>
<circle cx="812" cy="825.8" r="3.6" fill="#55249a"/>
<circle cx="824" cy="834.7" r="3.6" fill="#55249a"/>
<circle cx="852.2" cy="847.5" r="3.6" fill="#55249a"/>
<circle cx="864.2" cy="854.9" r="3.6" fill="#55249a"/>
<circle cx="703.6" cy="740.3" r="3.6" fill="#12908e"/>
<circle cx="743.8" cy="779.4" r="3.6" fill="#12908e"/>
<circle cx="771.9" cy="828.2" r="3.6" fill="#12908e"/>
<circle cx="783.9" cy="847.5" r="3.6" fill="#12908e"/>
<circle cx="812" cy="869.9" r="3.6" fill="#12908e"/>
<circle cx="824" cy="874.4" r="3.6" fill="#12908e"/>
<circle cx="852.2" cy="879.4" r="3.6" fill="#12908e"/>
<circle cx="864.2" cy="882.4" r="3.6" fill="#12908e"/>
<circle cx="703.6" cy="740.3" r="3.6" fill="#f0307a"/>
<circle cx="743.8" cy="824.7" r="3.6" fill="#f0307a"/>
<circle cx="771.9" cy="855.1" r="3.6" fill="#f0307a"/>
<circle cx="783.9" cy="875.7" r="3.6" fill="#f0307a"/>
<circle cx="812" cy="877.1" r="3.6" fill="#f0307a"/>
<circle cx="824" cy="876.5" r="3.6" fill="#f0307a"/>
<circle cx="852.2" cy="874.4" r="3.6" fill="#f0307a"/>
<circle cx="864.2" cy="876.5" r="3.6" fill="#f0307a"/>
<circle cx="703.6" cy="740.3" r="5" fill="#f0307a"/>
<line x1="703.6" y1="664" x2="703.6" y2="890" stroke="#000" stroke-width="3.5"/>
<line x1="686.5" y1="888.3" x2="866.5" y2="888.3" stroke="#000" stroke-width="3.5"/>
<line x1="687.5" y1="888.3" x2="703.6" y2="888.3" stroke="#000" stroke-width="3.5"/>
<text x="680.8" y="898.3" font-size="30" text-anchor="end" transform="translate(680.8 898.3) scale(1 1.04) translate(-680.8 -898.3)">0</text>
<line x1="687.5" y1="851.3" x2="703.6" y2="851.3" stroke="#000" stroke-width="3.5"/>
<text x="680.8" y="861.3" font-size="30" text-anchor="end" transform="translate(680.8 861.3) scale(1 1.04) translate(-680.8 -861.3)">25</text>
<line x1="687.5" y1="814.3" x2="703.6" y2="814.3" stroke="#000" stroke-width="3.5"/>
<text x="680.8" y="824.3" font-size="30" text-anchor="end" transform="translate(680.8 824.3) scale(1 1.04) translate(-680.8 -824.3)">50</text>
<line x1="687.5" y1="777.3" x2="703.6" y2="777.3" stroke="#000" stroke-width="3.5"/>
<text x="680.8" y="787.3" font-size="30" text-anchor="end" transform="translate(680.8 787.3) scale(1 1.04) translate(-680.8 -787.3)">75</text>
<line x1="687.5" y1="740.3" x2="703.6" y2="740.3" stroke="#000" stroke-width="3.5"/>
<text x="680.8" y="750.3" font-size="30" text-anchor="end" transform="translate(680.8 750.3) scale(1 1.04) translate(-680.8 -750.3)">100</text>
<line x1="687.5" y1="703.3" x2="703.6" y2="703.3" stroke="#000" stroke-width="3.5"/>
<text x="680.8" y="713.3" font-size="30" text-anchor="end" transform="translate(680.8 713.3) scale(1 1.04) translate(-680.8 -713.3)">125</text>
<line x1="687.5" y1="666.3" x2="703.6" y2="666.3" stroke="#000" stroke-width="3.5"/>
<text x="680.8" y="676.3" font-size="30" text-anchor="end" transform="translate(680.8 676.3) scale(1 1.04) translate(-680.8 -676.3)">150</text>
<line x1="703.6" y1="888.3" x2="703.6" y2="904.3" stroke="#000" stroke-width="3.5"/>
<text x="703.6" y="937.3" font-size="29" text-anchor="middle" transform="translate(703.6 937.3) scale(1 1.04) translate(-703.6 -937.3)">0</text>
<line x1="743.8" y1="888.3" x2="743.8" y2="904.3" stroke="#000" stroke-width="3.5"/>
<text x="743.8" y="937.3" font-size="29" text-anchor="middle" transform="translate(743.8 937.3) scale(1 1.04) translate(-743.8 -937.3)">1</text>
<line x1="783.9" y1="888.3" x2="783.9" y2="904.3" stroke="#000" stroke-width="3.5"/>
<text x="783.9" y="937.3" font-size="29" text-anchor="middle" transform="translate(783.9 937.3) scale(1 1.04) translate(-783.9 -937.3)">2</text>
<line x1="824" y1="888.3" x2="824" y2="904.3" stroke="#000" stroke-width="3.5"/>
<text x="824" y="937.3" font-size="29" text-anchor="middle" transform="translate(824 937.3) scale(1 1.04) translate(-824 -937.3)">3</text>
<line x1="864.2" y1="888.3" x2="864.2" y2="904.3" stroke="#000" stroke-width="3.5"/>
<text x="864.2" y="937.3" font-size="29" text-anchor="middle" transform="translate(864.2 937.3) scale(1 1.04) translate(-864.2 -937.3)">4</text>
<text x="784.2" y="982" font-size="29.5" text-anchor="middle" transform="translate(784.2 982) scale(1 1.04) translate(-784.2 -982)">KRASi, log(nM)</text>
<text x="612.5" y="779" font-size="28.9" text-anchor="middle" transform="rotate(-90 612.5 779) translate(612.5 779) scale(1 1.04) translate(-612.5 -779)">KRAS-GTP/total, %</text>
<line x1="890" y1="690.1" x2="933.8" y2="690.1" stroke="#f0307a" stroke-width="1.8"/>
<circle cx="912.1" cy="690.1" r="3.6" fill="#f0307a"/>
<text x="957" y="700.8" font-size="29.5" transform="translate(957 700.8) scale(1 1.04) translate(-957 -700.8)">G12C</text>
<line x1="1060" y1="690.1" x2="1103.4" y2="690.1" stroke="#f0307a" stroke-width="1.8" stroke-dasharray="4.5 3.5"/>
<rect x="1076.6" y="685.8" width="8.6" height="8.6" fill="none" stroke="#f0307a" stroke-width="1.8"/>
<text x="1126" y="700.8" font-size="29.5" transform="translate(1126 700.8) scale(1 1.04) translate(-1126 -700.8)">G12C/A59G</text>
<line x1="890" y1="732.9" x2="933.8" y2="732.9" stroke="#12908e" stroke-width="1.8"/>
<circle cx="912.1" cy="732.9" r="3.6" fill="#12908e"/>
<text x="957" y="743.6" font-size="29.5" transform="translate(957 743.6) scale(1 1.04) translate(-957 -743.6)">G12D</text>
<line x1="1060" y1="732.9" x2="1103.4" y2="732.9" stroke="#12908e" stroke-width="1.8" stroke-dasharray="4.5 3.5"/>
<rect x="1076.6" y="728.6" width="8.6" height="8.6" fill="none" stroke="#12908e" stroke-width="1.8"/>
<text x="1126" y="743.6" font-size="29.5" transform="translate(1126 743.6) scale(1 1.04) translate(-1126 -743.6)">G12D/A59G</text>
<line x1="890" y1="775.8" x2="933.8" y2="775.8" stroke="#55249a" stroke-width="1.8"/>
<circle cx="912.1" cy="775.8" r="3.6" fill="#55249a"/>
<text x="957" y="786.5" font-size="29.5" transform="translate(957 786.5) scale(1 1.04) translate(-957 -786.5)">G12V</text>
<line x1="1060" y1="775.8" x2="1103.4" y2="775.8" stroke="#55249a" stroke-width="1.8" stroke-dasharray="4.5 3.5"/>
<rect x="1076.6" y="771.5" width="8.6" height="8.6" fill="none" stroke="#55249a" stroke-width="1.8"/>
<text x="1126" y="786.5" font-size="29.5" transform="translate(1126 786.5) scale(1 1.04) translate(-1126 -786.5)">G12V/A59G</text>
<line x1="890" y1="818.6" x2="933.8" y2="818.6" stroke="#c38cf5" stroke-width="1.8"/>
<circle cx="912.1" cy="818.6" r="3.6" fill="#c38cf5"/>
<text x="957" y="829.3" font-size="29.5" transform="translate(957 829.3) scale(1 1.04) translate(-957 -829.3)">G13C</text>
<line x1="1060" y1="818.6" x2="1103.4" y2="818.6" stroke="#c38cf5" stroke-width="1.8" stroke-dasharray="4.5 3.5"/>
<rect x="1076.6" y="814.3" width="8.6" height="8.6" fill="none" stroke="#c38cf5" stroke-width="1.8"/>
<text x="1126" y="829.3" font-size="29.5" transform="translate(1126 829.3) scale(1 1.04) translate(-1126 -829.3)">G13C/A59G</text>
<line x1="890" y1="861.5" x2="933.8" y2="861.5" stroke="#72d4f2" stroke-width="1.8"/>
<circle cx="912.1" cy="861.5" r="3.6" fill="#72d4f2"/>
<text x="957" y="872.2" font-size="29.5" transform="translate(957 872.2) scale(1 1.04) translate(-957 -872.2)">G13D</text>
<line x1="1060" y1="861.5" x2="1103.4" y2="861.5" stroke="#72d4f2" stroke-width="1.8" stroke-dasharray="4.5 3.5"/>
<rect x="1076.6" y="857.2" width="8.6" height="8.6" fill="none" stroke="#72d4f2" stroke-width="1.8"/>
<text x="1126" y="872.2" font-size="29.5" transform="translate(1126 872.2) scale(1 1.04) translate(-1126 -872.2)">G13D/A59G</text>
<line x1="890" y1="904.3" x2="933.8" y2="904.3" stroke="#949fa3" stroke-width="1.8"/>
<circle cx="912.1" cy="904.3" r="3.6" fill="#949fa3"/>
<text x="957" y="915" font-size="29.5" transform="translate(957 915) scale(1 1.04) translate(-957 -915)">Q61H</text>
<line x1="1060" y1="904.3" x2="1103.4" y2="904.3" stroke="#949fa3" stroke-width="1.8" stroke-dasharray="4.5 3.5"/>
<rect x="1076.6" y="900" width="8.6" height="8.6" fill="none" stroke="#949fa3" stroke-width="1.8"/>
<text x="1126" y="915" font-size="29.5" transform="translate(1126 915) scale(1 1.04) translate(-1126 -915)">Q61H/A59G</text>
<text x="1362" y="628.5" font-size="37" font-weight="bold" transform="translate(1362 628.5) scale(1 1.04) translate(-1362 -628.5)">g</text>
<path d="M1549 884.3 L1556.4 885.3 L1564.3 885.8 L1572.2 879.2 L1579.5 878.2 L1584.8 883.3 L1593.2 865.7 L1603.7 871 L1614.2 860.8 L1626.4 832.7 L1638.4 754.3 L1649 705.5 L1660.5 688.5 L1672.1 683.6 L1683.7 680.5 L1696.3 679.9 L1707.9 679.7 L1719.4 679.3 L1732.1 679.5" fill="none" stroke="#d1241c" stroke-width="3.4" stroke-linejoin="round"/>
<circle cx="1549" cy="884.3" r="5" fill="#d1241c"/>
<circle cx="1556.4" cy="885.3" r="5" fill="#d1241c"/>
<circle cx="1564.3" cy="885.8" r="5" fill="#d1241c"/>
<circle cx="1572.2" cy="879.2" r="5" fill="#d1241c"/>
<circle cx="1579.5" cy="878.2" r="5" fill="#d1241c"/>
<circle cx="1584.8" cy="883.3" r="5" fill="#d1241c"/>
<circle cx="1593.2" cy="865.7" r="5" fill="#d1241c"/>
<circle cx="1603.7" cy="871" r="5" fill="#d1241c"/>
<circle cx="1614.2" cy="860.8" r="5" fill="#d1241c"/>
<circle cx="1626.4" cy="832.7" r="5" fill="#d1241c"/>
<circle cx="1638.4" cy="754.3" r="5" fill="#d1241c"/>
<circle cx="1649" cy="705.5" r="5" fill="#d1241c"/>
<circle cx="1660.5" cy="688.5" r="5" fill="#d1241c"/>
<circle cx="1672.1" cy="683.6" r="5" fill="#d1241c"/>
<circle cx="1683.7" cy="680.5" r="5" fill="#d1241c"/>
<circle cx="1696.3" cy="679.9" r="5" fill="#d1241c"/>
<circle cx="1707.9" cy="679.7" r="5" fill="#d1241c"/>
<circle cx="1719.4" cy="679.3" r="5" fill="#d1241c"/>
<circle cx="1732.1" cy="679.5" r="5" fill="#d1241c"/>
<path d="M1548 880.8 L1556.4 878.2 L1564.3 886.4 L1572 871.2 L1579.5 871.2 L1586.9 876.1 L1594.3 875.1 L1601.6 874.1 L1609 873.5 L1616.3 873.1 L1624.8 866.9 L1632.1 868.6 L1637.4 845 L1645.8 792.8 L1655 725.6 L1663.7 695.7 L1672.1 687.1 L1680.5 682.8 L1688.9 681.4 L1697.4 678.5" fill="none" stroke="#1859a0" stroke-width="3.4" stroke-linejoin="round"/>
<circle cx="1548" cy="880.8" r="5" fill="#1859a0"/>
<circle cx="1556.4" cy="878.2" r="5" fill="#1859a0"/>
<circle cx="1564.3" cy="886.4" r="5" fill="#1859a0"/>
<circle cx="1572" cy="871.2" r="5" fill="#1859a0"/>
<circle cx="1579.5" cy="871.2" r="5" fill="#1859a0"/>
<circle cx="1586.9" cy="876.1" r="5" fill="#1859a0"/>
<circle cx="1594.3" cy="875.1" r="5" fill="#1859a0"/>
<circle cx="1601.6" cy="874.1" r="5" fill="#1859a0"/>
<circle cx="1609" cy="873.5" r="5" fill="#1859a0"/>
<circle cx="1616.3" cy="873.1" r="5" fill="#1859a0"/>
<circle cx="1624.8" cy="866.9" r="5" fill="#1859a0"/>
<circle cx="1632.1" cy="868.6" r="5" fill="#1859a0"/>
<circle cx="1637.4" cy="845" r="5" fill="#1859a0"/>
<circle cx="1645.8" cy="792.8" r="5" fill="#1859a0"/>
<circle cx="1655" cy="725.6" r="5" fill="#1859a0"/>
<circle cx="1663.7" cy="695.7" r="5" fill="#1859a0"/>
<circle cx="1672.1" cy="687.1" r="5" fill="#1859a0"/>
<circle cx="1680.5" cy="682.8" r="5" fill="#1859a0"/>
<circle cx="1688.9" cy="681.4" r="5" fill="#1859a0"/>
<circle cx="1697.4" cy="678.5" r="5" fill="#1859a0"/>
<line x1="1538.5" y1="677" x2="1538.5" y2="885" stroke="#000" stroke-width="3.5"/>
<line x1="1521" y1="883.3" x2="1750.5" y2="883.3" stroke="#000" stroke-width="3.5"/>
<line x1="1522.7" y1="883.3" x2="1538.5" y2="883.3" stroke="#000" stroke-width="3.5"/>
<text x="1517" y="893.1" font-size="27.8" text-anchor="end" transform="translate(1517 893.1) scale(1 1.04) translate(-1517 -893.1)">0</text>
<line x1="1522.7" y1="832.1" x2="1538.5" y2="832.1" stroke="#000" stroke-width="3.5"/>
<text x="1517" y="841.9" font-size="27.8" text-anchor="end" transform="translate(1517 841.9) scale(1 1.04) translate(-1517 -841.9)">25</text>
<line x1="1522.7" y1="780.9" x2="1538.5" y2="780.9" stroke="#000" stroke-width="3.5"/>
<text x="1517" y="790.7" font-size="27.8" text-anchor="end" transform="translate(1517 790.7) scale(1 1.04) translate(-1517 -790.7)">50</text>
<line x1="1522.7" y1="729.7" x2="1538.5" y2="729.7" stroke="#000" stroke-width="3.5"/>
<text x="1517" y="739.5" font-size="27.8" text-anchor="end" transform="translate(1517 739.5) scale(1 1.04) translate(-1517 -739.5)">75</text>
<line x1="1522.7" y1="678.5" x2="1538.5" y2="678.5" stroke="#000" stroke-width="3.5"/>
<text x="1517" y="688.3" font-size="27.8" text-anchor="end" transform="translate(1517 688.3) scale(1 1.04) translate(-1517 -688.3)">100</text>
<line x1="1538.5" y1="883.3" x2="1538.5" y2="898.4" stroke="#000" stroke-width="3.5"/>
<text x="1538.5" y="928.4" font-size="27.8" text-anchor="middle" transform="translate(1538.5 928.4) scale(1 1.04) translate(-1538.5 -928.4)">0.0</text>
<line x1="1591.1" y1="883.3" x2="1591.1" y2="898.4" stroke="#000" stroke-width="3.5"/>
<text x="1591.1" y="928.4" font-size="27.8" text-anchor="middle" transform="translate(1591.1 928.4) scale(1 1.04) translate(-1591.1 -928.4)">0.5</text>
<line x1="1643.7" y1="883.3" x2="1643.7" y2="898.4" stroke="#000" stroke-width="3.5"/>
<text x="1643.7" y="928.4" font-size="27.8" text-anchor="middle" transform="translate(1643.7 928.4) scale(1 1.04) translate(-1643.7 -928.4)">1.0</text>
<line x1="1696.3" y1="883.3" x2="1696.3" y2="898.4" stroke="#000" stroke-width="3.5"/>
<text x="1696.3" y="928.4" font-size="27.8" text-anchor="middle" transform="translate(1696.3 928.4) scale(1 1.04) translate(-1696.3 -928.4)">1.5</text>
<line x1="1748.9" y1="883.3" x2="1748.9" y2="898.4" stroke="#000" stroke-width="3.5"/>
<text x="1748.9" y="928.4" font-size="27.8" text-anchor="middle" transform="translate(1748.9 928.4) scale(1 1.04) translate(-1748.9 -928.4)">2.0</text>
<text x="1644.1" y="971.2" font-size="27" text-anchor="middle" transform="translate(1644.1 971.2) scale(1 1.04) translate(-1644.1 -971.2)">Molar ratio</text>
<text x="1457.2" y="783.2" font-size="29.5" text-anchor="middle" transform="rotate(-90 1457.2 783.2) translate(1457.2 783.2) scale(1 1.04) translate(-1457.2 -783.2)">ΔH, min-max</text>
<line x1="1503.3" y1="644.3" x2="1545" y2="644.3" stroke="#1859a0" stroke-width="3.2"/>
<circle cx="1524.2" cy="644.3" r="5" fill="#1859a0"/>
<text x="1564.5" y="654.5" font-size="29.5" transform="translate(1564.5 654.5) scale(1 1.04) translate(-1564.5 -654.5)">WT</text>
<line x1="1628.4" y1="644.3" x2="1669.8" y2="644.3" stroke="#d1241c" stroke-width="3.2"/>
<circle cx="1649" cy="644.3" r="5" fill="#d1241c"/>
<text x="1689.5" y="654.5" font-size="29.5" transform="translate(1689.5 654.5) scale(1 1.04) translate(-1689.5 -654.5)">A59G</text>
<text x="14.8" y="1059" font-size="37" font-weight="bold" transform="translate(14.8 1059) scale(1 1.04) translate(-14.8 -1059)">h</text>
<text x="226" y="1072.7" font-size="33" transform="translate(226 1072.7) scale(1 1.04) translate(-226 -1072.7)">KRASi, µM</text>
<line x1="146.6" y1="1110.7" x2="196.3" y2="1110.7" stroke="#cf2218" stroke-width="2.6"/>
<circle cx="171.5" cy="1110.7" r="4.2" fill="#cf2218"/>
<text x="222" y="1121.9" font-size="32" transform="translate(222 1121.9) scale(1 1.04) translate(-222 -1121.9)">0</text>
<line x1="254.3" y1="1110.7" x2="304" y2="1110.7" stroke="#15549c" stroke-width="2.6"/>
<rect x="275" y="1106.5" width="8.4" height="8.4" fill="#15549c"/>
<text x="330.5" y="1121.9" font-size="32" transform="translate(330.5 1121.9) scale(1 1.04) translate(-330.5 -1121.9)">1</text>
<line x1="363.6" y1="1110.7" x2="412.5" y2="1110.7" stroke="#e7b45c" stroke-width="2.6"/>
<path d="M384.3 1115.2 L388.3 1106.8 L392.3 1115.2 Z" fill="#e7b45c"/>
<text x="441.5" y="1121.9" font-size="32" transform="translate(441.5 1121.9) scale(1 1.04) translate(-441.5 -1121.9)">10</text>
<path d="M160 1312.5 L161.5 1312.5 L163 1311.6 L164.5 1311.5 L166 1310.9 L167.5 1309.2 L169 1308.6 L170.5 1309.6 L172 1307.9 L173.5 1307.3 L175 1308.3 L176.5 1306.7 L178 1306.9 L179.5 1305.6 L181 1305.4 L182.5 1303.8 L184 1304.3 L185.5 1304.2 L187 1303 L188.5 1302.8 L190 1302.2 L191.5 1300.4 L193 1301.2 L194.5 1300.4 L196 1299.2 L197.5 1298.2 L199 1299.3 L200.5 1297.9 L202 1297.9 L203.5 1297.7 L205 1296.8 L206.5 1296.7 L208 1295.1 L209.5 1295.4 L211 1294.2 L212.5 1294.7 L214 1294.1 L215.5 1292 L217 1291.6 L218.5 1291.3 L220 1292.3 L221.5 1290.7 L223 1290.6 L224.5 1289.4 L226 1289.3 L227.5 1288.6 L229 1288 L230.5 1288 L232 1287.5 L233.5 1287.6 L235 1286.7 L236.5 1286.7 L238 1286 L239.5 1285.8 L241 1284.8 L242.5 1283.3 L244 1284.3 L245.5 1284.1 L247 1283.6 L248.5 1282.5 L250 1282.3 L251.5 1280.9 L253 1281.7 L254.5 1280.8 L256 1279.8 L257.5 1278.9 L259 1280.1 L260.5 1280 L262 1277.7 L263.5 1278.7 L265 1277.6 L266.5 1276.7 L268 1276.6 L269.5 1277.2 L271 1277 L272.5 1275 L274 1275.7 L275.5 1274.2 L277 1275.2 L278.5 1274 L280 1274.8 L281.5 1274.6 L283 1273.3 L284 1274 L284 1293.7 L283 1293.8 L281.5 1293 L280 1294 L278.5 1293.5 L277 1294.1 L275.5 1294.9 L274 1296.1 L272.5 1296 L271 1295.7 L269.5 1295.7 L268 1297.4 L266.5 1296.9 L265 1298.1 L263.5 1297.4 L262 1297.7 L260.5 1297.6 L259 1299.2 L257.5 1299 L256 1298.8 L254.5 1299.3 L253 1300.7 L251.5 1299.7 L250 1300.2 L248.5 1301.3 L247 1301.2 L245.5 1300.4 L244 1302.1 L242.5 1301.6 L241 1301.7 L239.5 1302.6 L238 1302.4 L236.5 1302.5 L235 1302.9 L233.5 1303 L232 1303.8 L230.5 1303.8 L229 1303.7 L227.5 1305.3 L226 1305 L224.5 1304 L223 1304.2 L221.5 1305.9 L220 1306 L218.5 1305.6 L217 1306.5 L215.5 1306.3 L214 1306.9 L212.5 1306 L211 1307.4 L209.5 1307.6 L208 1306.6 L206.5 1308 L205 1307.8 L203.5 1307.1 L202 1308.2 L200.5 1308.3 L199 1309.3 L197.5 1308 L196 1308 L194.5 1309 L193 1308.6 L191.5 1308.8 L190 1309.8 L188.5 1309.2 L187 1309.2 L185.5 1309.4 L184 1309.5 L182.5 1309.4 L181 1309.4 L179.5 1309.4 L178 1310.9 L176.5 1311.6 L175 1310.8 L173.5 1312.3 L172 1311.2 L170.5 1311.9 L169 1313.3 L167.5 1313.4 L166 1313.4 L164.5 1313.6 L163 1315.2 L161.5 1314.7 L160 1315.6Z" fill="#e7b45c"/>
<path d="M121 1311.5 L122.5 1310.4 L124 1310.1 L125.5 1308.8 L127 1307.8 L128.5 1307.6 L130 1307.8 L131.5 1306.7 L133 1305.8 L134.5 1303.8 L136 1303.6 L137.5 1302.3 L139 1301.2 L140.5 1300.3 L142 1299.7 L143.5 1300.4 L145 1299.5 L146.5 1298.7 L148 1297.9 L149.5 1296 L151 1295.4 L152.5 1295.3 L154 1294.8 L155.5 1294.3 L157 1293.6 L158.5 1291.3 L160 1291.6 L161.5 1290.9 L163 1289.9 L164.5 1288.5 L166 1288.5 L167.5 1287.1 L169 1288.3 L170.5 1287.6 L172 1286.4 L173.5 1285.3 L175 1286 L176.5 1284.8 L178 1284.9 L179.5 1284.2 L181 1283 L182.5 1282.3 L184 1282.1 L185.5 1281.2 L187 1280.1 L188.5 1279.8 L190 1280.3 L191.5 1278.3 L193 1277.9 L194.5 1278.6 L196 1277.4 L197.5 1277.5 L199 1276.9 L200.5 1276.2 L202 1277 L203.5 1275 L205 1275 L206.5 1274.1 L208 1274.5 L209.5 1273.3 L211 1273 L212.5 1273.4 L214 1272.1 L215.5 1272.1 L217 1272.4 L218.5 1270.4 L220 1269.9 L221.5 1269.9 L223 1270.6 L224.5 1269.9 L226 1268.7 L227.5 1268.5 L229 1267.8 L230.5 1268 L232 1266.7 L233.5 1267.6 L235 1267.6 L236.5 1267.4 L238 1266.5 L239.5 1266.6 L241 1264.3 L242.5 1264.5 L244 1265.6 L245.5 1264.8 L247 1263.8 L248.5 1264.5 L250 1263.5 L251.5 1263.5 L253 1262.1 L254.5 1261.6 L256 1261.7 L257.5 1260.8 L259 1260.9 L260.5 1261.8 L262 1260.1 L263.5 1259.2 L265 1259 L266.5 1259 L268 1260 L269.5 1258.9 L271 1258.5 L272.5 1257.9 L274 1259.5 L275.5 1258.1 L277 1257.5 L278.5 1256.9 L280 1256.7 L281.5 1256.7 L283 1257.5 L284 1256.3 L284 1275 L283 1276.1 L281.5 1276 L280 1275.4 L278.5 1275.8 L277 1278 L275.5 1277.5 L274 1277.5 L272.5 1278.1 L271 1279.5 L269.5 1279.1 L268 1279.9 L266.5 1279.4 L265 1281.4 L263.5 1281.8 L262 1280.5 L260.5 1281.9 L259 1282.8 L257.5 1282.4 L256 1282.3 L254.5 1283.6 L253 1284.5 L251.5 1284.1 L250 1284.7 L248.5 1283.9 L247 1284.3 L245.5 1285.7 L244 1285.9 L242.5 1286.9 L241 1287.5 L239.5 1286.8 L238 1287.8 L236.5 1287.2 L235 1288.9 L233.5 1288.6 L232 1289.6 L230.5 1289.8 L229 1290.2 L227.5 1289.1 L226 1291 L224.5 1289.6 L223 1291.8 L221.5 1290.3 L220 1291.1 L218.5 1292.8 L217 1292.8 L215.5 1292.8 L214 1293.3 L212.5 1292.8 L211 1293 L209.5 1294.6 L208 1295.7 L206.5 1294.4 L205 1296.4 L203.5 1295.2 L202 1296.8 L200.5 1297.9 L199 1298.3 L197.5 1297 L196 1299.2 L194.5 1299.5 L193 1298.7 L191.5 1299.9 L190 1300.3 L188.5 1300.5 L187 1301.6 L185.5 1301.7 L184 1302.5 L182.5 1302.7 L181 1302.6 L179.5 1304.2 L178 1304.6 L176.5 1305.1 L175 1304.2 L173.5 1304.5 L172 1305.7 L170.5 1306.7 L169 1307.3 L167.5 1307.5 L166 1308.5 L164.5 1308 L163 1309.8 L161.5 1309.5 L160 1310.9 L158.5 1309.7 L157 1310.5 L155.5 1312.5 L154 1311.9 L152.5 1312.4 L151 1313.1 L149.5 1313.7 L148 1313.9 L146.5 1315.4 L145 1316.7 L143.5 1317.4 L142 1316.7 L140.5 1317.6 L139 1317.5 L137.5 1318.9 L136 1319.2 L134.5 1320.3 L133 1321.9 L131.5 1321.4 L130 1322.8 L128.5 1322.9 L127 1322.7 L125.5 1325.1 L124 1324.2 L122.5 1325.3 L121 1325.1Z" fill="#15549c"/>
<path d="M121 1314.8 L122.5 1314.4 L124 1313.9 L125.5 1313.5 L127 1312.6 L128.5 1312.3 L130 1310.2 L131.5 1310.3 L133 1310.5 L134.5 1309.4 L136 1309.2 L137.5 1307.4 L139 1307.4 L140.5 1306.4 L142 1306.4 L143.5 1306 L145 1304.6 L146.5 1304.5 L148 1304.1 L149.5 1304.6 L151 1303.9 L152.5 1302.5 L154 1303 L155.5 1301.5 L157 1301.7 L158.5 1300.5 L160 1299.8 L161.5 1300.7 L163 1299.2 L164.5 1298.7 L166 1299.5 L167.5 1298.9 L169 1297.5 L170.5 1298.2 L172 1297.1 L173.5 1296.9 L175 1295.7 L176.5 1296.5 L178 1295.7 L179.5 1295.7 L181 1295.1 L182.5 1293.8 L184 1293.5 L185.5 1292.7 L187 1292.3 L188.5 1291.7 L190 1291.7 L191.5 1291.8 L193 1290.5 L194.5 1291.2 L196 1290.2 L197.5 1289.8 L199 1290.3 L200.5 1289.3 L202 1288.7 L203.5 1288.6 L205 1288.6 L206.5 1287.2 L208 1288.3 L209.5 1286.4 L211 1287.1 L212.5 1286.9 L214 1285.2 L215.5 1286.1 L217 1285.1 L218.5 1285.1 L220 1283.8 L221.5 1283.5 L223 1283.4 L224.5 1284.3 L226 1282.7 L227.5 1283.3 L229 1283.2 L230.5 1282.9 L232 1281.6 L233.5 1281.3 L235 1281.2 L236.5 1281.2 L238 1279.8 L239.5 1280.5 L241 1280.2 L242.5 1280 L244 1278.3 L245.5 1279.3 L247 1277.6 L248.5 1277.6 L250 1277.7 L251.5 1277.8 L253 1276.5 L254.5 1277.1 L256 1276.1 L257.5 1275.3 L259 1275 L260.5 1274.4 L262 1273.8 L263.5 1273.6 L265 1274 L266.5 1274.1 L268 1272.3 L269.5 1271.7 L271 1272.7 L272.5 1271.6 L274 1270.9 L275.5 1270.2 L277 1270.4 L278.5 1270.3 L280 1269.3 L281.5 1268.8 L283 1267.8 L284 1268.9 L284 1274.6 L283 1274.3 L281.5 1276.1 L280 1275.4 L278.5 1276.4 L277 1276.8 L275.5 1276.8 L274 1277.3 L272.5 1277 L271 1277.7 L269.5 1278 L268 1278.6 L266.5 1278.7 L265 1279 L263.5 1279.6 L262 1280.4 L260.5 1280.1 L259 1281.5 L257.5 1281.9 L256 1281.6 L254.5 1282.6 L253 1282.7 L251.5 1282.6 L250 1282.8 L248.5 1284.3 L247 1284.6 L245.5 1285.2 L244 1285.3 L242.5 1285.4 L241 1286.1 L239.5 1286.4 L238 1287.2 L236.5 1286.7 L235 1288.1 L233.5 1288.6 L232 1289 L230.5 1289.1 L229 1290.4 L227.5 1290.7 L226 1290.1 L224.5 1291.2 L223 1291.7 L221.5 1292.9 L220 1293.4 L218.5 1293.4 L217 1294.2 L215.5 1294.6 L214 1294.3 L212.5 1295.6 L211 1295.9 L209.5 1296.3 L208 1296.3 L206.5 1297.5 L205 1297.8 L203.5 1298.7 L202 1298.7 L200.5 1299.7 L199 1299.6 L197.5 1300.7 L196 1300.4 L194.5 1301.9 L193 1302.6 L191.5 1303.7 L190 1303.3 L188.5 1304.5 L187 1305.2 L185.5 1305.4 L184 1305.6 L182.5 1306.9 L181 1307 L179.5 1308.2 L178 1308.7 L176.5 1309.3 L175 1310 L173.5 1310.7 L172 1310.6 L170.5 1312 L169 1312.4 L167.5 1312.2 L166 1312.5 L164.5 1313.4 L163 1314.3 L161.5 1315.1 L160 1316.2 L158.5 1316.8 L157 1316.4 L155.5 1316.6 L154 1317.6 L152.5 1317.9 L151 1318.8 L149.5 1319.7 L148 1319.9 L146.5 1320.4 L145 1321.7 L143.5 1322.1 L142 1322.9 L140.5 1322.5 L139 1322.7 L137.5 1324 L136 1323.3 L134.5 1324.2 L133 1324.1 L131.5 1325.6 L130 1325.7 L128.5 1326.7 L127 1326.7 L125.5 1326.2 L124 1327.7 L122.5 1327.6 L121 1327.3Z" fill="#cf2218"/>
<line x1="124" y1="1146" x2="124" y2="1336.7" stroke="#000" stroke-width="3.5"/>
<line x1="107" y1="1335.1" x2="281" y2="1335.1" stroke="#000" stroke-width="3.5"/>
<line x1="107.8" y1="1335" x2="124" y2="1335" stroke="#000" stroke-width="3.5"/>
<text x="100.5" y="1345.5" font-size="31.5" text-anchor="end" transform="translate(100.5 1345.5) scale(1 1.04) translate(-100.5 -1345.5)">0.0</text>
<line x1="107.8" y1="1297.5" x2="124" y2="1297.5" stroke="#000" stroke-width="3.5"/>
<text x="100.5" y="1308" font-size="31.5" text-anchor="end" transform="translate(100.5 1308) scale(1 1.04) translate(-100.5 -1308)">0.2</text>
<line x1="107.8" y1="1260" x2="124" y2="1260" stroke="#000" stroke-width="3.5"/>
<text x="100.5" y="1270.5" font-size="31.5" text-anchor="end" transform="translate(100.5 1270.5) scale(1 1.04) translate(-100.5 -1270.5)">0.4</text>
<line x1="107.8" y1="1222.4" x2="124" y2="1222.4" stroke="#000" stroke-width="3.5"/>
<text x="100.5" y="1232.9" font-size="31.5" text-anchor="end" transform="translate(100.5 1232.9) scale(1 1.04) translate(-100.5 -1232.9)">0.6</text>
<line x1="107.8" y1="1184.9" x2="124" y2="1184.9" stroke="#000" stroke-width="3.5"/>
<text x="100.5" y="1195.4" font-size="31.5" text-anchor="end" transform="translate(100.5 1195.4) scale(1 1.04) translate(-100.5 -1195.4)">0.8</text>
<line x1="107.8" y1="1147.4" x2="124" y2="1147.4" stroke="#000" stroke-width="3.5"/>
<text x="100.5" y="1157.9" font-size="31.5" text-anchor="end" transform="translate(100.5 1157.9) scale(1 1.04) translate(-100.5 -1157.9)">1.0</text>
<line x1="124" y1="1335.1" x2="124" y2="1352.2" stroke="#000" stroke-width="3.5"/>
<text x="124" y="1384" font-size="30" text-anchor="middle" transform="translate(124 1384) scale(1 1.04) translate(-124 -1384)">0</text>
<line x1="201.7" y1="1335.1" x2="201.7" y2="1352.2" stroke="#000" stroke-width="3.5"/>
<text x="201.7" y="1384" font-size="30" text-anchor="middle" transform="translate(201.7 1384) scale(1 1.04) translate(-201.7 -1384)">1500</text>
<line x1="279.3" y1="1335.1" x2="279.3" y2="1352.2" stroke="#000" stroke-width="3.5"/>
<text x="279.3" y="1384" font-size="30" text-anchor="middle" transform="translate(279.3 1384) scale(1 1.04) translate(-279.3 -1384)">3000</text>
<text x="203.5" y="1425" font-size="30" text-anchor="middle" transform="translate(203.5 1425) scale(1 1.04) translate(-203.5 -1425)">Time, s</text>
<text x="202.6" y="1156.5" font-size="29.5" text-anchor="middle" transform="translate(202.6 1156.5) scale(1 1.04) translate(-202.6 -1156.5)">Intrinsic</text>
<text x="34.5" y="1240.6" font-size="30" text-anchor="middle" transform="rotate(-90 34.5 1240.6) translate(34.5 1240.6) scale(1 1.04) translate(-34.5 -1240.6)">P0<tspan font-size="21" dy="8">4</tspan><tspan dy="-8"> released, µM</tspan></text>
<path d="M352 1318.9 L353.5 1315.3 L355 1310.7 L356.5 1307 L358 1304.7 L359.5 1305.2 L361 1303.2 L362.5 1302.5 L364 1299.9 L365.5 1299.6 L367 1296.6 L368.5 1297.2 L370 1296.1 L371.5 1294.2 L373 1293.7 L374.5 1293.2 L376 1290.9 L377.5 1291.1 L379 1290.9 L380.5 1288.4 L382 1289.1 L383.5 1287.9 L385 1287.5 L386.5 1285.2 L388 1283.6 L389.5 1284.9 L391 1284.1 L392.5 1282.3 L394 1280.4 L395.5 1279.9 L397 1280.4 L398.5 1278.6 L400 1279.7 L401.5 1277.9 L403 1276.1 L404.5 1276.8 L406 1275.2 L407.5 1276.2 L409 1275.5 L410.5 1273.6 L412 1273.4 L413.5 1272.9 L415 1272.5 L416.5 1272.3 L418 1268.8 L419.5 1269.2 L421 1269.2 L422.5 1267.6 L424 1267.8 L425.5 1265.6 L427 1267.3 L428.5 1265.6 L430 1263.7 L431.5 1264.7 L433 1263 L434.5 1261.9 L436 1262.1 L437.5 1260.4 L439 1260 L440.5 1261.2 L442 1260.1 L443.5 1257.3 L445 1259 L446.5 1256.1 L448 1256.6 L449.5 1257.7 L451 1256.4 L452.5 1254.9 L454 1254.6 L455.5 1254.1 L457 1252.8 L458.5 1254.9 L460 1251.5 L461.5 1252.1 L463 1252.5 L464.5 1250.9 L466 1252.2 L467.5 1249.4 L469 1251.1 L470.5 1250.3 L472 1249.1 L473.5 1249.3 L475 1247.4 L476.5 1248 L478 1247.4 L479.5 1246.1 L481 1245.4 L482.5 1245.6 L484 1244.2 L485.5 1242.7 L487 1244.1 L488.5 1242.2 L490 1242.3 L491.5 1242.7 L493 1240.5 L494.5 1239.6 L496 1239.4 L497.5 1240.4 L499 1239.2 L500.5 1238.5 L502 1238.6 L503.5 1239.6 L505 1237.1 L506.5 1237.1 L508 1238.1 L509.5 1236.8 L511 1235.3 L512.1 1235.6 L512.1 1260.4 L511 1259.5 L509.5 1260.3 L508 1260.4 L506.5 1262 L505 1260.9 L503.5 1262.8 L502 1262 L500.5 1262.4 L499 1264.1 L497.5 1264.5 L496 1265.2 L494.5 1264.3 L493 1266.6 L491.5 1265.1 L490 1266.4 L488.5 1267.8 L487 1268.8 L485.5 1268.5 L484 1269.5 L482.5 1267 L481 1268.2 L479.5 1268 L478 1267.8 L476.5 1269.6 L475 1270.2 L473.5 1271.1 L472 1269.2 L470.5 1269.3 L469 1272.3 L467.5 1271.1 L466 1273.1 L464.5 1271.4 L463 1273.5 L461.5 1271.6 L460 1274.5 L458.5 1272.9 L457 1275.4 L455.5 1275.2 L454 1273.4 L452.5 1275.7 L451 1274.8 L449.5 1275.7 L448 1277.1 L446.5 1276.4 L445 1278.2 L443.5 1278.8 L442 1276.8 L440.5 1279.2 L439 1279.4 L437.5 1279.1 L436 1280.9 L434.5 1281.4 L433 1281.8 L431.5 1281.4 L430 1280.2 L428.5 1282.9 L427 1281.3 L425.5 1283.5 L424 1283.7 L422.5 1285 L421 1284.4 L419.5 1285.6 L418 1284.7 L416.5 1285.3 L415 1287.6 L413.5 1286.8 L412 1288.9 L410.5 1289.6 L409 1288.8 L407.5 1290.1 L406 1290 L404.5 1291.8 L403 1292.5 L401.5 1294.2 L400 1294.9 L398.5 1294.8 L397 1296.4 L395.5 1298.4 L394 1297.2 L392.5 1297.8 L391 1301.2 L389.5 1302.4 L388 1301.7 L386.5 1303.8 L385 1303 L383.5 1306 L382 1304.9 L380.5 1306 L379 1308.3 L377.5 1308.1 L376 1310 L374.5 1313 L373 1313.7 L371.5 1313.9 L370 1314.7 L368.5 1315.6 L367 1317.6 L365.5 1318.2 L364 1321.2 L362.5 1322.7 L361 1323.1 L359.5 1323.4 L358 1326.2 L356.5 1326.1 L355 1328 L353.5 1329.1 L352 1331.9Z" fill="#e7b45c" opacity="0.8"/>
<path d="M352 1324.3 L354.7 1319.3 L357.3 1315.4 L360 1312.9 L362.7 1310.4 L365.3 1307.9 L368 1305.5 L370.7 1303.8 L373.3 1302 L376 1300.3 L378.7 1298.5 L381.4 1296.8 L384 1295 L386.7 1293.4 L389.4 1291.8 L392 1290.2 L394.7 1288.6 L397.4 1287 L400 1285.4 L402.7 1284.1 L405.4 1282.9 L408 1281.7 L410.7 1280.5 L413.4 1279.3 L416 1278.1 L418.7 1276.9 L421.4 1275.7 L424 1274.6 L426.7 1273.6 L429.4 1272.6 L432.1 1271.6 L434.7 1270.5 L437.4 1269.5 L440.1 1268.5 L442.7 1267.5 L445.4 1266.5 L448.1 1265.7 L450.7 1264.8 L453.4 1264 L456.1 1263.2 L458.7 1262.4 L461.4 1261.6 L464.1 1260.7 L466.7 1259.9 L469.4 1259.2 L472.1 1258.4 L474.7 1257.7 L477.4 1256.9 L480.1 1256.2 L482.7 1255.4 L485.4 1254.7 L488.1 1253.9 L490.8 1253.1 L493.4 1252.3 L496.1 1251.5 L498.8 1250.7 L501.4 1249.9 L504.1 1249.1 L506.8 1248.3 L509.4 1247.5 L512.1 1246.7" fill="none" stroke="#e7b45c" stroke-width="5" stroke-linejoin="round" stroke-linecap="round"/>
<path d="M352 1315.6 L353.5 1310.7 L355 1307.4 L356.5 1301.5 L358 1298.1 L359.5 1293.2 L361 1288.7 L362.5 1286.5 L364 1282.1 L365.5 1279.7 L367 1275.6 L368.5 1272.3 L370 1269.8 L371.5 1268.4 L373 1264.3 L374.5 1262.1 L376 1260.7 L377.5 1259.1 L379 1255.8 L380.5 1253.3 L382 1253.3 L383.5 1249.6 L385 1250.2 L386.5 1247.4 L388 1245.7 L389.5 1244.2 L391 1243.3 L392.5 1243.1 L394 1240.2 L395.5 1239.9 L397 1239 L398.5 1237.4 L400 1236.8 L401.5 1234.6 L403 1233.6 L404.5 1233 L406 1233.1 L407.5 1231.5 L409 1230.2 L410.5 1230 L412 1229.1 L413.5 1228.1 L415 1228.7 L416.5 1227.9 L418 1226.2 L419.5 1226.4 L421 1225.7 L422.5 1225.9 L424 1225 L425.5 1223.3 L427 1224.4 L428.5 1221.7 L430 1221.8 L431.5 1222.3 L433 1220.6 L434.5 1221.1 L436 1219.7 L437.5 1220.9 L439 1220.8 L440.5 1220.1 L442 1220.5 L443.5 1218.9 L445 1219.5 L446.5 1218.9 L448 1218.6 L449.5 1218 L451 1218.6 L452.5 1218.6 L454 1217.1 L455.5 1217.3 L457 1215.5 L458.5 1216.8 L460 1216.4 L461.5 1217 L463 1216.4 L464.5 1214.9 L466 1214.9 L467.5 1215.4 L469 1213.7 L470.5 1214.5 L472 1213.6 L473.5 1213.3 L475 1212.9 L476.5 1214.4 L478 1212.7 L479.5 1212.8 L481 1212.9 L482.5 1213.9 L484 1211.8 L485.5 1212.5 L487 1212.5 L488.5 1213.1 L490 1212.8 L491.5 1212.7 L493 1211.1 L494.5 1211.2 L496 1210.8 L497.5 1211.9 L499 1211.9 L500.5 1209.7 L502 1209.6 L503.5 1209.5 L505 1209.3 L506.5 1209.7 L508 1209.8 L509.5 1208.8 L511 1207.9 L512 1208.8 L512 1227.1 L511 1228.6 L509.5 1229.4 L508 1228.3 L506.5 1228.6 L505 1230.2 L503.5 1230 L502 1229.1 L500.5 1230.5 L499 1229.2 L497.5 1230.2 L496 1231.1 L494.5 1231.4 L493 1232 L491.5 1231.6 L490 1230.5 L488.5 1232.4 L487 1232.3 L485.5 1232.1 L484 1233.2 L482.5 1233.5 L481 1233 L479.5 1232.2 L478 1232.3 L476.5 1232.5 L475 1232.6 L473.5 1233.1 L472 1234.7 L470.5 1234.9 L469 1235 L467.5 1233.9 L466 1235.3 L464.5 1234.8 L463 1233.9 L461.5 1234.1 L460 1233.7 L458.5 1233.8 L457 1234.7 L455.5 1235.3 L454 1234.7 L452.5 1236.1 L451 1236.4 L449.5 1236.6 L448 1236.8 L446.5 1237.3 L445 1237 L443.5 1235.8 L442 1236.2 L440.5 1237.4 L439 1237 L437.5 1237.9 L436 1236.8 L434.5 1237.5 L433 1237.6 L431.5 1238.9 L430 1239.6 L428.5 1240.2 L427 1239.5 L425.5 1238.6 L424 1240.1 L422.5 1239.5 L421 1241.1 L419.5 1242.7 L418 1241 L416.5 1242 L415 1244.2 L413.5 1243.4 L412 1244.2 L410.5 1244.2 L409 1244.7 L407.5 1246.3 L406 1246.9 L404.5 1249.1 L403 1249.6 L401.5 1248.8 L400 1250.3 L398.5 1251.2 L397 1251.8 L395.5 1252.5 L394 1254.5 L392.5 1256 L391 1254.9 L389.5 1256.7 L388 1257.7 L386.5 1259.4 L385 1260.7 L383.5 1262.5 L382 1264.8 L380.5 1266 L379 1267.7 L377.5 1269.9 L376 1272.9 L374.5 1277.3 L373 1279 L371.5 1282.7 L370 1285.7 L368.5 1289.7 L367 1293.1 L365.5 1296.9 L364 1301.2 L362.5 1303.2 L361 1308.8 L359.5 1312.6 L358 1316.4 L356.5 1320.9 L355 1324.1 L353.5 1325.1 L352 1326.7Z" fill="#15549c" opacity="0.9"/>
<path d="M352 1321 L354.7 1314.9 L357.3 1308.2 L360 1300.6 L362.7 1294.1 L365.3 1287.7 L368 1281.4 L370.7 1276 L373.3 1271.2 L376 1266.5 L378.7 1261.8 L381.3 1258.7 L384 1256 L386.7 1253.3 L389.3 1250.6 L392 1248.5 L394.7 1246.4 L397.3 1244.6 L400 1242.9 L402.7 1241.2 L405.3 1239.5 L408 1238 L410.7 1236.6 L413.3 1235.6 L416 1234.5 L418.7 1233.5 L421.3 1232.4 L424 1231.4 L426.7 1230.6 L429.3 1229.8 L432 1229.1 L434.7 1228.6 L437.3 1228.1 L440 1227.5 L442.7 1227.1 L445.3 1226.7 L448 1226.3 L450.7 1225.9 L453.3 1225.5 L456 1225.1 L458.7 1224.7 L461.3 1224.3 L464 1224 L466.7 1223.7 L469.3 1223.4 L472 1223 L474.7 1222.7 L477.3 1222.4 L480 1222.1 L482.7 1221.8 L485.3 1221.4 L488 1221.1 L490.7 1220.7 L493.3 1220.3 L496 1219.9 L498.7 1219.5 L501.3 1219.1 L504 1218.7 L506.7 1218.3 L509.3 1217.9 L512 1217.5" fill="none" stroke="#15549c" stroke-width="6" stroke-linejoin="round" stroke-linecap="round"/>
<path d="M351.7 1308 L353.2 1303.5 L354.7 1294.3 L356.2 1289.6 L357.7 1284.5 L359.2 1281.7 L360.7 1280.6 L362.2 1275 L363.7 1273 L365.2 1269.2 L366.7 1265.9 L368.2 1263.1 L369.7 1259.4 L371.2 1258.6 L372.7 1253.7 L374.2 1251.4 L375.7 1248 L377.2 1246.1 L378.7 1243.9 L380.2 1243.6 L381.7 1240.1 L383.2 1237.5 L384.7 1236 L386.2 1236.4 L387.7 1231.7 L389.2 1231.5 L390.7 1228.9 L392.2 1228 L393.7 1225.8 L395.2 1225.6 L396.7 1223.7 L398.2 1222.9 L399.7 1222.4 L401.2 1220.2 L402.7 1217.6 L404.2 1216.1 L405.7 1217.4 L407.2 1215.1 L408.7 1213.4 L410.2 1214.9 L411.7 1213 L413.2 1212.6 L414.7 1212.3 L416.2 1209.7 L417.7 1209.1 L419.2 1209.9 L420.7 1206.8 L422.2 1207.9 L423.7 1205.2 L425.2 1206.2 L426.7 1205.6 L428.2 1205.6 L429.7 1204.6 L431.2 1202.9 L432.7 1201.3 L434.2 1200.4 L435.7 1200.9 L437.2 1200.1 L438.7 1198.1 L440.2 1200 L441.7 1198.7 L443.2 1199.1 L444.7 1197.5 L446.2 1197.3 L447.7 1196.5 L449.2 1197.3 L450.7 1196.9 L452.2 1197.2 L453.7 1196.8 L455.2 1198 L456.7 1198 L458.2 1195.7 L459.7 1196.2 L461.2 1195.3 L462.7 1196.6 L464.2 1197.3 L465.7 1194.8 L467.2 1196.3 L468.7 1194.8 L470.2 1193.7 L471.7 1195.8 L473.2 1194.3 L474.7 1193.6 L476.2 1194.2 L477.7 1193.4 L479.2 1193.8 L480.7 1193.7 L482.2 1193.4 L483.7 1193.7 L485.2 1192.7 L486.7 1192.1 L488.2 1192 L489.7 1192 L491.2 1193.2 L492.7 1192.6 L494.2 1193.9 L495.7 1193 L497.2 1193.5 L498.7 1194.3 L500.2 1191.5 L501.7 1191.3 L503.2 1191.6 L504.7 1192.3 L506.2 1192.8 L507.7 1193.2 L509.2 1192 L510.7 1193.8 L512.1 1190.8 L512.1 1216.5 L510.7 1216.5 L509.2 1215.4 L507.7 1216.8 L506.2 1216.2 L504.7 1217 L503.2 1215.4 L501.7 1217 L500.2 1217.2 L498.7 1217.8 L497.2 1216.1 L495.7 1216.3 L494.2 1217.8 L492.7 1216.1 L491.2 1216.8 L489.7 1217.8 L488.2 1216.4 L486.7 1216.4 L485.2 1218.2 L483.7 1216.1 L482.2 1217.1 L480.7 1216.8 L479.2 1218.3 L477.7 1216.4 L476.2 1217.1 L474.7 1219 L473.2 1218.2 L471.7 1218.2 L470.2 1218.1 L468.7 1218.1 L467.2 1218.9 L465.7 1219.7 L464.2 1219.6 L462.7 1220.3 L461.2 1219.7 L459.7 1220.3 L458.2 1219.7 L456.7 1218.9 L455.2 1219.1 L453.7 1220.8 L452.2 1221.3 L450.7 1219.6 L449.2 1219.4 L447.7 1221.7 L446.2 1220.4 L444.7 1222.3 L443.2 1223.2 L441.7 1222.5 L440.2 1222.6 L438.7 1224 L437.2 1224.6 L435.7 1223.3 L434.2 1225.5 L432.7 1224.5 L431.2 1224.2 L429.7 1224.3 L428.2 1227 L426.7 1227.2 L425.2 1227 L423.7 1227.9 L422.2 1227.6 L420.7 1226.6 L419.2 1229.3 L417.7 1230.4 L416.2 1230.6 L414.7 1230.5 L413.2 1231.3 L411.7 1233.6 L410.2 1233.8 L408.7 1235.4 L407.2 1236.8 L405.7 1235 L404.2 1236.9 L402.7 1237.5 L401.2 1237.3 L399.7 1240.1 L398.2 1241.5 L396.7 1242.6 L395.2 1241.9 L393.7 1244 L392.2 1244.4 L390.7 1245.5 L389.2 1247.1 L387.7 1248.3 L386.2 1249.6 L384.7 1251.4 L383.2 1253.1 L381.7 1254.3 L380.2 1255.5 L378.7 1258.5 L377.2 1261 L375.7 1261.7 L374.2 1263.9 L372.7 1267 L371.2 1270.4 L369.7 1274.1 L368.2 1275.8 L366.7 1280.2 L365.2 1285.1 L363.7 1286 L362.2 1290.5 L360.7 1295.8 L359.2 1299.4 L357.7 1304.4 L356.2 1305.9 L354.7 1312.8 L353.2 1315.2 L351.7 1321.4Z" fill="#cf2218" opacity="0.8"/>
<path d="M351.7 1315.2 L354.4 1305.6 L357 1296.9 L359.7 1290 L362.4 1283.4 L365.1 1277.5 L367.7 1271.7 L370.4 1266.3 L373.1 1261 L375.8 1256.7 L378.4 1252.5 L381.1 1249 L383.8 1245.4 L386.5 1242.8 L389.1 1240.2 L391.8 1237.6 L394.5 1235.5 L397.1 1233.4 L399.8 1231.3 L402.5 1229.4 L405.2 1227.6 L407.8 1226 L410.5 1224.5 L413.2 1223.1 L415.9 1221.6 L418.5 1220.2 L421.2 1218.7 L423.9 1217.4 L426.6 1216.5 L429.2 1215.6 L431.9 1214.7 L434.6 1213.7 L437.2 1212.8 L439.9 1211.9 L442.6 1211.4 L445.3 1210.9 L447.9 1210.4 L450.6 1209.9 L453.3 1209.7 L456 1209.4 L458.6 1209.1 L461.3 1208.8 L464 1208.6 L466.7 1208.3 L469.3 1208 L472 1207.7 L474.7 1207.4 L477.3 1207.2 L480 1206.9 L482.7 1206.7 L485.4 1206.5 L488 1206.3 L490.7 1206.2 L493.4 1206.1 L496.1 1205.9 L498.7 1205.8 L501.4 1205.7 L504.1 1205.5 L506.8 1205.4 L509.4 1205.2 L512.1 1205.1" fill="none" stroke="#cf2218" stroke-width="8" stroke-linejoin="round" stroke-linecap="round"/>
<line x1="352.8" y1="1147.3" x2="352.8" y2="1337.9" stroke="#000" stroke-width="3.5"/>
<line x1="336" y1="1336.4" x2="511.5" y2="1336.4" stroke="#000" stroke-width="3.5"/>
<line x1="337" y1="1336.2" x2="352.8" y2="1336.2" stroke="#000" stroke-width="3.5"/>
<text x="330" y="1346.7" font-size="31.5" text-anchor="end" transform="translate(330 1346.7) scale(1 1.04) translate(-330 -1346.7)">0.0</text>
<line x1="337" y1="1298.7" x2="352.8" y2="1298.7" stroke="#000" stroke-width="3.5"/>
<text x="330" y="1309.2" font-size="31.5" text-anchor="end" transform="translate(330 1309.2) scale(1 1.04) translate(-330 -1309.2)">0.2</text>
<line x1="337" y1="1261.2" x2="352.8" y2="1261.2" stroke="#000" stroke-width="3.5"/>
<text x="330" y="1271.7" font-size="31.5" text-anchor="end" transform="translate(330 1271.7) scale(1 1.04) translate(-330 -1271.7)">0.4</text>
<line x1="337" y1="1223.7" x2="352.8" y2="1223.7" stroke="#000" stroke-width="3.5"/>
<text x="330" y="1234.2" font-size="31.5" text-anchor="end" transform="translate(330 1234.2) scale(1 1.04) translate(-330 -1234.2)">0.6</text>
<line x1="337" y1="1186.2" x2="352.8" y2="1186.2" stroke="#000" stroke-width="3.5"/>
<text x="330" y="1196.7" font-size="31.5" text-anchor="end" transform="translate(330 1196.7) scale(1 1.04) translate(-330 -1196.7)">0.8</text>
<line x1="337" y1="1148.7" x2="352.8" y2="1148.7" stroke="#000" stroke-width="3.5"/>
<text x="330" y="1159.2" font-size="31.5" text-anchor="end" transform="translate(330 1159.2) scale(1 1.04) translate(-330 -1159.2)">1.0</text>
<line x1="353" y1="1336.4" x2="353" y2="1353.5" stroke="#000" stroke-width="3.5"/>
<text x="353" y="1386.2" font-size="30" text-anchor="middle" transform="translate(353 1386.2) scale(1 1.04) translate(-353 -1386.2)">0</text>
<line x1="431.4" y1="1336.4" x2="431.4" y2="1353.5" stroke="#000" stroke-width="3.5"/>
<text x="431.4" y="1386.2" font-size="30" text-anchor="middle" transform="translate(431.4 1386.2) scale(1 1.04) translate(-431.4 -1386.2)">1500</text>
<line x1="509.8" y1="1336.4" x2="509.8" y2="1353.5" stroke="#000" stroke-width="3.5"/>
<text x="509.8" y="1386.2" font-size="30" text-anchor="middle" transform="translate(509.8 1386.2) scale(1 1.04) translate(-509.8 -1386.2)">3000</text>
<text x="431.8" y="1429.6" font-size="30" text-anchor="middle" transform="translate(431.8 1429.6) scale(1 1.04) translate(-431.8 -1429.6)">Time, s</text>
<text x="436" y="1157.9" font-size="30" text-anchor="middle" transform="translate(436 1157.9) scale(1 1.04) translate(-436 -1157.9)">NF1 GRD</text>
<text x="534.5" y="1022.2" font-size="37" font-weight="bold" transform="translate(534.5 1022.2) scale(1 1.04) translate(-534.5 -1022.2)">i</text>
<text x="794.1" y="1030.9" font-size="29" text-anchor="middle" transform="translate(794.1 1030.9) scale(1 1.04) translate(-794.1 -1030.9)">pan KRASi</text>
<line x1="685.2" y1="1044.9" x2="903.7" y2="1044.9" stroke="#000" stroke-width="2.6"/>
<text x="1049.2" y="1030.9" font-size="29" text-anchor="middle" transform="translate(1049.2 1030.9) scale(1 1.04) translate(-1049.2 -1030.9)">Sotorasib</text>
<line x1="940.8" y1="1044.9" x2="1158.6" y2="1044.9" stroke="#000" stroke-width="2.6"/>
<text transform="translate(700.8 1140.5) rotate(-90) scale(1 1.04)" font-size="28.5">0</text>
<text transform="translate(734.9 1140.5) rotate(-90) scale(1 1.04)" font-size="28.5">50</text>
<text transform="translate(769 1140.5) rotate(-90) scale(1 1.04)" font-size="28.5">100</text>
<text transform="translate(803 1140.5) rotate(-90) scale(1 1.04)" font-size="28.5">500</text>
<text transform="translate(837.1 1140.5) rotate(-90) scale(1 1.04)" font-size="28.5">1000</text>
<text transform="translate(871.2 1140.5) rotate(-90) scale(1 1.04)" font-size="28.5">5000</text>
<text transform="translate(907.2 1140.5) rotate(-90) scale(1 1.04)" font-size="28.5">10000</text>
<text transform="translate(960.2 1140.5) rotate(-90) scale(1 1.04)" font-size="28.5">0</text>
<text transform="translate(994.3 1140.5) rotate(-90) scale(1 1.04)" font-size="28.5">50</text>
<text transform="translate(1028.3 1140.5) rotate(-90) scale(1 1.04)" font-size="28.5">100</text>
<text transform="translate(1062.4 1140.5) rotate(-90) scale(1 1.04)" font-size="28.5">500</text>
<text transform="translate(1096.5 1140.5) rotate(-90) scale(1 1.04)" font-size="28.5">1000</text>
<text transform="translate(1130.6 1140.5) rotate(-90) scale(1 1.04)" font-size="28.5">5000</text>
<text transform="translate(1166.6 1140.5) rotate(-90) scale(1 1.04)" font-size="28.5">10000</text>
<text x="617.5" y="1124.4" font-size="21" transform="translate(617.5 1124.4) scale(1 1.04) translate(-617.5 -1124.4)">kDa</text>
<text x="1196" y="1129.3" font-size="29" transform="translate(1196 1129.3) scale(1 1.04) translate(-1196 -1129.3)">nM</text>
<rect x="665.3" y="1149.7" width="256" height="31.6" fill="#f3f3f3" stroke="#000" stroke-width="2.6"/>
<rect x="665.3" y="1192.5" width="256" height="30.7" fill="#f3f3f3" stroke="#000" stroke-width="2.6"/>
<rect x="666.5" y="1259.6" width="255.6" height="31.1" fill="#f3f3f3" stroke="#000" stroke-width="2.6"/>
<rect x="666.5" y="1301.9" width="255.6" height="30.7" fill="#f3f3f3" stroke="#000" stroke-width="2.6"/>
<rect x="933.4" y="1149.7" width="255.6" height="31.2" fill="#f3f3f3" stroke="#000" stroke-width="2.6"/>
<rect x="933.4" y="1192.5" width="255.6" height="30.7" fill="#f3f3f3" stroke="#000" stroke-width="2.6"/>
<rect x="933.4" y="1259.6" width="256" height="31.1" fill="#f3f3f3" stroke="#000" stroke-width="2.6"/>
<rect x="933.4" y="1301.9" width="256" height="30.7" fill="#f3f3f3" stroke="#000" stroke-width="2.6"/>
<rect x="673.5" y="1165.8" width="30" height="7.5" rx="3.4" fill="#0a0a0a" filter="url(#bb)"/>
<rect x="708" y="1165.8" width="30" height="7.5" rx="3.4" fill="#787878" filter="url(#bb)"/>
<rect x="743.5" y="1165.8" width="30" height="7.5" rx="3.4" fill="#a0a0a0" filter="url(#bb)"/>
<rect x="778.5" y="1165.8" width="30" height="7.5" rx="3.4" fill="#e8e8e8" filter="url(#bb)"/>
<rect x="813.5" y="1165.8" width="30" height="7.5" rx="3.4" fill="#eaeaea" filter="url(#bb)"/>
<rect x="942.9" y="1164" width="29" height="7" rx="3.2" fill="#0a0a0a" filter="url(#bb)"/>
<rect x="977" y="1164" width="29" height="7" rx="3.2" fill="#787878" filter="url(#bb)"/>
<rect x="1013" y="1164" width="29" height="7" rx="3.2" fill="#aaaaaa" filter="url(#bb)"/>
<rect x="1047.3" y="1164" width="29" height="7" rx="3.2" fill="#e2e2e2" filter="url(#bb)"/>
<rect x="1082.7" y="1164" width="29" height="7" rx="3.2" fill="#e4e4e4" filter="url(#bb)"/>
<rect x="1118" y="1164" width="29" height="7" rx="3.2" fill="#e6e6e6" filter="url(#bb)"/>
<rect x="1152.9" y="1164" width="29" height="7" rx="3.2" fill="#e8e8e8" filter="url(#bb)"/>
<rect x="675.5" y="1206" width="26" height="8" rx="3.6" fill="#0f0f0f" filter="url(#bb)"/>
<rect x="710" y="1206" width="26" height="8" rx="3.6" fill="#0a0a0a" filter="url(#bb)"/>
<rect x="745.5" y="1206" width="26" height="8" rx="3.6" fill="#0f0f0f" filter="url(#bb)"/>
<rect x="780.5" y="1206" width="26" height="8" rx="3.6" fill="#050505" filter="url(#bb)"/>
<rect x="815.5" y="1206" width="26" height="8" rx="3.6" fill="#0f0f0f" filter="url(#bb)"/>
<rect x="851" y="1206" width="26" height="8" rx="3.6" fill="#0a0a0a" filter="url(#bb)"/>
<rect x="885" y="1206" width="26" height="8" rx="3.6" fill="#0a0a0a" filter="url(#bb)"/>
<rect x="943.9" y="1207.6" width="27" height="8" rx="3.6" fill="#0a0a0a" filter="url(#bb)"/>
<rect x="978" y="1201.2" width="27" height="8" rx="3.6" fill="#0a0a0a" filter="url(#bb)"/>
<rect x="1014" y="1199.2" width="27" height="8" rx="3.6" fill="#0a0a0a" filter="url(#bb)"/>
<rect x="1048.3" y="1198.8" width="27" height="8" rx="3.6" fill="#050505" filter="url(#bb)"/>
<rect x="1083.7" y="1200" width="27" height="8" rx="3.6" fill="#0a0a0a" filter="url(#bb)"/>
<rect x="1119" y="1201.2" width="27" height="8" rx="3.6" fill="#0a0a0a" filter="url(#bb)"/>
<rect x="1153.9" y="1203.6" width="27" height="8" rx="3.6" fill="#0a0a0a" filter="url(#bb)"/>
<rect x="677.5" y="1273.8" width="28" height="7.5" rx="3.4" fill="#0a0a0a" filter="url(#bb)"/>
<rect x="713" y="1273.8" width="28" height="7.5" rx="3.4" fill="#3c3c3c" filter="url(#bb)"/>
<rect x="749" y="1273.8" width="28" height="7.5" rx="3.4" fill="#646464" filter="url(#bb)"/>
<rect x="785" y="1273.8" width="28" height="7.5" rx="3.4" fill="#bebebe" filter="url(#bb)"/>
<rect x="821" y="1273.8" width="28" height="7.5" rx="3.4" fill="#d7d7d7" filter="url(#bb)"/>
<rect x="857" y="1273.8" width="28" height="7.5" rx="3.4" fill="#dedede" filter="url(#bb)"/>
<rect x="893" y="1273.8" width="28" height="7.5" rx="3.4" fill="#dedede" filter="url(#bb)"/>
<rect x="943.4" y="1274.2" width="28" height="7.5" rx="3.4" fill="#050505" filter="url(#bb)"/>
<rect x="977.5" y="1274.2" width="28" height="7.5" rx="3.4" fill="#505050" filter="url(#bb)"/>
<rect x="1013.5" y="1274.2" width="28" height="7.5" rx="3.4" fill="#6e6e6e" filter="url(#bb)"/>
<rect x="1047.8" y="1274.2" width="28" height="7.5" rx="3.4" fill="#cdcdcd" filter="url(#bb)"/>
<rect x="1083.2" y="1274.2" width="28" height="7.5" rx="3.4" fill="#dedede" filter="url(#bb)"/>
<rect x="1118.5" y="1274.2" width="28" height="7.5" rx="3.4" fill="#e4e4e4" filter="url(#bb)"/>
<rect x="678" y="1314.6" width="27" height="8" rx="3.6" fill="#050505" filter="url(#bb)"/>
<rect x="713.5" y="1314.6" width="27" height="8" rx="3.6" fill="#0a0a0a" filter="url(#bb)"/>
<rect x="749.5" y="1314.6" width="27" height="8" rx="3.6" fill="#0a0a0a" filter="url(#bb)"/>
<rect x="785.5" y="1314.6" width="27" height="8" rx="3.6" fill="#050505" filter="url(#bb)"/>
<rect x="821.5" y="1314.6" width="27" height="8" rx="3.6" fill="#0a0a0a" filter="url(#bb)"/>
<rect x="857.5" y="1314.6" width="27" height="8" rx="3.6" fill="#0a0a0a" filter="url(#bb)"/>
<rect x="893.5" y="1314.6" width="27" height="8" rx="3.6" fill="#0a0a0a" filter="url(#bb)"/>
<rect x="943.4" y="1317.3" width="28" height="9" rx="4.1" fill="#050505" filter="url(#bb)"/>
<rect x="977.5" y="1315" width="28" height="9" rx="4.1" fill="#232323" filter="url(#bb)"/>
<rect x="1013.5" y="1313.3" width="28" height="9" rx="4.1" fill="#141414" filter="url(#bb)"/>
<rect x="1047.8" y="1311.7" width="28" height="9" rx="4.1" fill="#0a0a0a" filter="url(#bb)"/>
<rect x="1083.2" y="1312.1" width="28" height="9" rx="4.1" fill="#0a0a0a" filter="url(#bb)"/>
<rect x="1118.5" y="1312.9" width="28" height="9" rx="4.1" fill="#0a0a0a" filter="url(#bb)"/>
<rect x="1153.4" y="1314.5" width="28" height="9" rx="4.1" fill="#0a0a0a" filter="url(#bb)"/>
<text x="646.5" y="1165.4" font-size="22" text-anchor="end" transform="translate(646.5 1165.4) scale(1 1.04) translate(-646.5 -1165.4)">25</text>
<line x1="653" y1="1157.4" x2="658.7" y2="1157.4" stroke="#000" stroke-width="2"/>
<text x="646.5" y="1209.3" font-size="22" text-anchor="end" transform="translate(646.5 1209.3) scale(1 1.04) translate(-646.5 -1209.3)">25</text>
<line x1="653" y1="1201.3" x2="658.7" y2="1201.3" stroke="#000" stroke-width="2"/>
<text x="646.5" y="1276.3" font-size="22" text-anchor="end" transform="translate(646.5 1276.3) scale(1 1.04) translate(-646.5 -1276.3)">25</text>
<line x1="653" y1="1268.3" x2="658.7" y2="1268.3" stroke="#000" stroke-width="2"/>
<text x="646.5" y="1319.1" font-size="22" text-anchor="end" transform="translate(646.5 1319.1) scale(1 1.04) translate(-646.5 -1319.1)">25</text>
<line x1="653" y1="1311.1" x2="658.7" y2="1311.1" stroke="#000" stroke-width="2"/>
<text transform="translate(602 1178.4) rotate(-90) scale(1 1.04)" font-size="28" text-anchor="middle">CALU1</text>
<text transform="translate(602 1293.9) rotate(-90) scale(1 1.04)" font-size="28.5" text-anchor="middle">H2122</text>
<line x1="614.1" y1="1143.4" x2="614.1" y2="1216.4" stroke="#000" stroke-width="2.6"/>
<line x1="614.1" y1="1257" x2="614.1" y2="1330.8" stroke="#000" stroke-width="2.6"/>
<text x="1200" y="1177.4" font-size="29.5" transform="translate(1200 1177.4) scale(1 1.04) translate(-1200 -1177.4)">KRAS-GTP</text>
<text x="1200" y="1219.1" font-size="29.5" transform="translate(1200 1219.1) scale(1 1.04) translate(-1200 -1219.1)">KRAS</text>
<text x="1200" y="1283.4" font-size="29.5" transform="translate(1200 1283.4) scale(1 1.04) translate(-1200 -1283.4)">KRAS-GTP</text>
<text x="1200" y="1325.1" font-size="29.5" transform="translate(1200 1325.1) scale(1 1.04) translate(-1200 -1325.1)">KRAS</text>
<text x="1350.7" y="1028.1" font-size="37" font-weight="bold" transform="translate(1350.7 1028.1) scale(1 1.04) translate(-1350.7 -1028.1)">j</text>
<text x="1502.3" y="1066" font-size="29" text-anchor="middle" transform="translate(1502.3 1066) scale(1 1.04) translate(-1502.3 -1066)">-</text>
<line x1="1440.4" y1="1077.8" x2="1564.2" y2="1077.8" stroke="#000" stroke-width="2.6"/>
<text x="1655.1" y="1066" font-size="29" text-anchor="middle" transform="translate(1655.1 1066) scale(1 1.04) translate(-1655.1 -1066)">SOS1i</text>
<line x1="1594.2" y1="1077.8" x2="1718.3" y2="1077.8" stroke="#000" stroke-width="2.6"/>
<text x="1808" y="1066" font-size="29" text-anchor="middle" transform="translate(1808 1066) scale(1 1.04) translate(-1808 -1066)">SHP2i</text>
<line x1="1746.8" y1="1077.8" x2="1870.2" y2="1077.8" stroke="#000" stroke-width="2.6"/>
<text transform="translate(1449.2 1143.8) rotate(-90) scale(1 1.04)" font-size="28">0</text>
<text transform="translate(1479.9 1143.8) rotate(-90) scale(1 1.04)" font-size="28">10</text>
<text transform="translate(1510.6 1143.8) rotate(-90) scale(1 1.04)" font-size="28">50</text>
<text transform="translate(1541.3 1143.8) rotate(-90) scale(1 1.04)" font-size="28">100</text>
<text transform="translate(1572 1143.8) rotate(-90) scale(1 1.04)" font-size="28">500</text>
<text transform="translate(1602.7 1143.8) rotate(-90) scale(1 1.04)" font-size="28">0</text>
<text transform="translate(1633.4 1143.8) rotate(-90) scale(1 1.04)" font-size="28">10</text>
<text transform="translate(1664.1 1143.8) rotate(-90) scale(1 1.04)" font-size="28">50</text>
<text transform="translate(1694.8 1143.8) rotate(-90) scale(1 1.04)" font-size="28">100</text>
<text transform="translate(1725.5 1143.8) rotate(-90) scale(1 1.04)" font-size="28">500</text>
<text transform="translate(1756.2 1143.8) rotate(-90) scale(1 1.04)" font-size="28">0</text>
<text transform="translate(1786.9 1143.8) rotate(-90) scale(1 1.04)" font-size="28">10</text>
<text transform="translate(1817.6 1143.8) rotate(-90) scale(1 1.04)" font-size="28">50</text>
<text transform="translate(1848.3 1143.8) rotate(-90) scale(1 1.04)" font-size="28">100</text>
<text transform="translate(1879 1143.8) rotate(-90) scale(1 1.04)" font-size="28">500</text>
<text x="1367.5" y="1143.8" font-size="21" transform="translate(1367.5 1143.8) scale(1 1.04) translate(-1367.5 -1143.8)">kDa</text>
<text x="1903" y="1142.6" font-size="29" transform="translate(1903 1142.6) scale(1 1.04) translate(-1903 -1142.6)">KRASi (nM, 2 h)</text>
<rect x="1413.7" y="1157.1" width="478.6" height="37.3" fill="#f8f8f8" stroke="#000" stroke-width="2.6"/>
<rect x="1413.7" y="1205.2" width="478.6" height="38.3" fill="#f8f8f8" stroke="#000" stroke-width="2.6"/>
<rect x="1426.9" y="1176.5" width="22" height="6.5" rx="3" fill="#464646" filter="url(#bb)"/>
<rect x="1457.6" y="1176.5" width="22" height="6.5" rx="3" fill="#3c3c3c" filter="url(#bb)"/>
<rect x="1488.2" y="1176.5" width="22" height="6.5" rx="3" fill="#787878" filter="url(#bb)"/>
<rect x="1518.9" y="1176.5" width="22" height="6.5" rx="3" fill="#afafaf" filter="url(#bb)"/>
<rect x="1580.2" y="1176.5" width="22" height="6.5" rx="3" fill="#0f0f0f" filter="url(#bb)"/>
<rect x="1610.8" y="1176.5" width="22" height="6.5" rx="3" fill="#afafaf" filter="url(#bb)"/>
<rect x="1641.5" y="1176.5" width="22" height="6.5" rx="3" fill="#e6e6e6" filter="url(#bb)"/>
<rect x="1733.4" y="1176.5" width="22" height="6.5" rx="3" fill="#969696" filter="url(#bb)"/>
<rect x="1426.4" y="1221.1" width="23" height="9" rx="4.1" fill="#191919" filter="url(#bb)"/>
<rect x="1457.1" y="1221.1" width="23" height="9" rx="4.1" fill="#0f0f0f" filter="url(#bb)"/>
<rect x="1487.7" y="1221.1" width="23" height="9" rx="4.1" fill="#050505" filter="url(#bb)"/>
<rect x="1518.4" y="1221.1" width="23" height="9" rx="4.1" fill="#0f0f0f" filter="url(#bb)"/>
<rect x="1549" y="1221.1" width="23" height="9" rx="4.1" fill="#141414" filter="url(#bb)"/>
<rect x="1579.7" y="1221.1" width="23" height="9" rx="4.1" fill="#0a0a0a" filter="url(#bb)"/>
<rect x="1610.3" y="1221.1" width="23" height="9" rx="4.1" fill="#0f0f0f" filter="url(#bb)"/>
<rect x="1641" y="1221.1" width="23" height="9" rx="4.1" fill="#050505" filter="url(#bb)"/>
<rect x="1671.6" y="1221.1" width="23" height="9" rx="4.1" fill="#0a0a0a" filter="url(#bb)"/>
<rect x="1702.2" y="1221.1" width="23" height="9" rx="4.1" fill="#0a0a0a" filter="url(#bb)"/>
<rect x="1732.9" y="1221.1" width="23" height="9" rx="4.1" fill="#050505" filter="url(#bb)"/>
<rect x="1763.6" y="1221.1" width="23" height="9" rx="4.1" fill="#050505" filter="url(#bb)"/>
<rect x="1794.2" y="1221.1" width="23" height="9" rx="4.1" fill="#050505" filter="url(#bb)"/>
<rect x="1824.9" y="1221.1" width="23" height="9" rx="4.1" fill="#141414" filter="url(#bb)"/>
<rect x="1855.5" y="1221.1" width="23" height="9" rx="4.1" fill="#0a0a0a" filter="url(#bb)"/>
<text x="1394.5" y="1180" font-size="22" text-anchor="end" transform="translate(1394.5 1180) scale(1 1.04) translate(-1394.5 -1180)">25</text>
<line x1="1400.9" y1="1172" x2="1407.3" y2="1172" stroke="#000" stroke-width="2"/>
<text x="1394.5" y="1227.2" font-size="22" text-anchor="end" transform="translate(1394.5 1227.2) scale(1 1.04) translate(-1394.5 -1227.2)">25</text>
<line x1="1400.9" y1="1219.2" x2="1407.3" y2="1219.2" stroke="#000" stroke-width="2"/>
<text x="1903" y="1184.5" font-size="29.5" transform="translate(1903 1184.5) scale(1 1.04) translate(-1903 -1184.5)">KRAS-GTP</text>
<text x="1903" y="1232.7" font-size="29.5" transform="translate(1903 1232.7) scale(1 1.04) translate(-1903 -1232.7)">KRAS</text>
</svg>
</body></html>
